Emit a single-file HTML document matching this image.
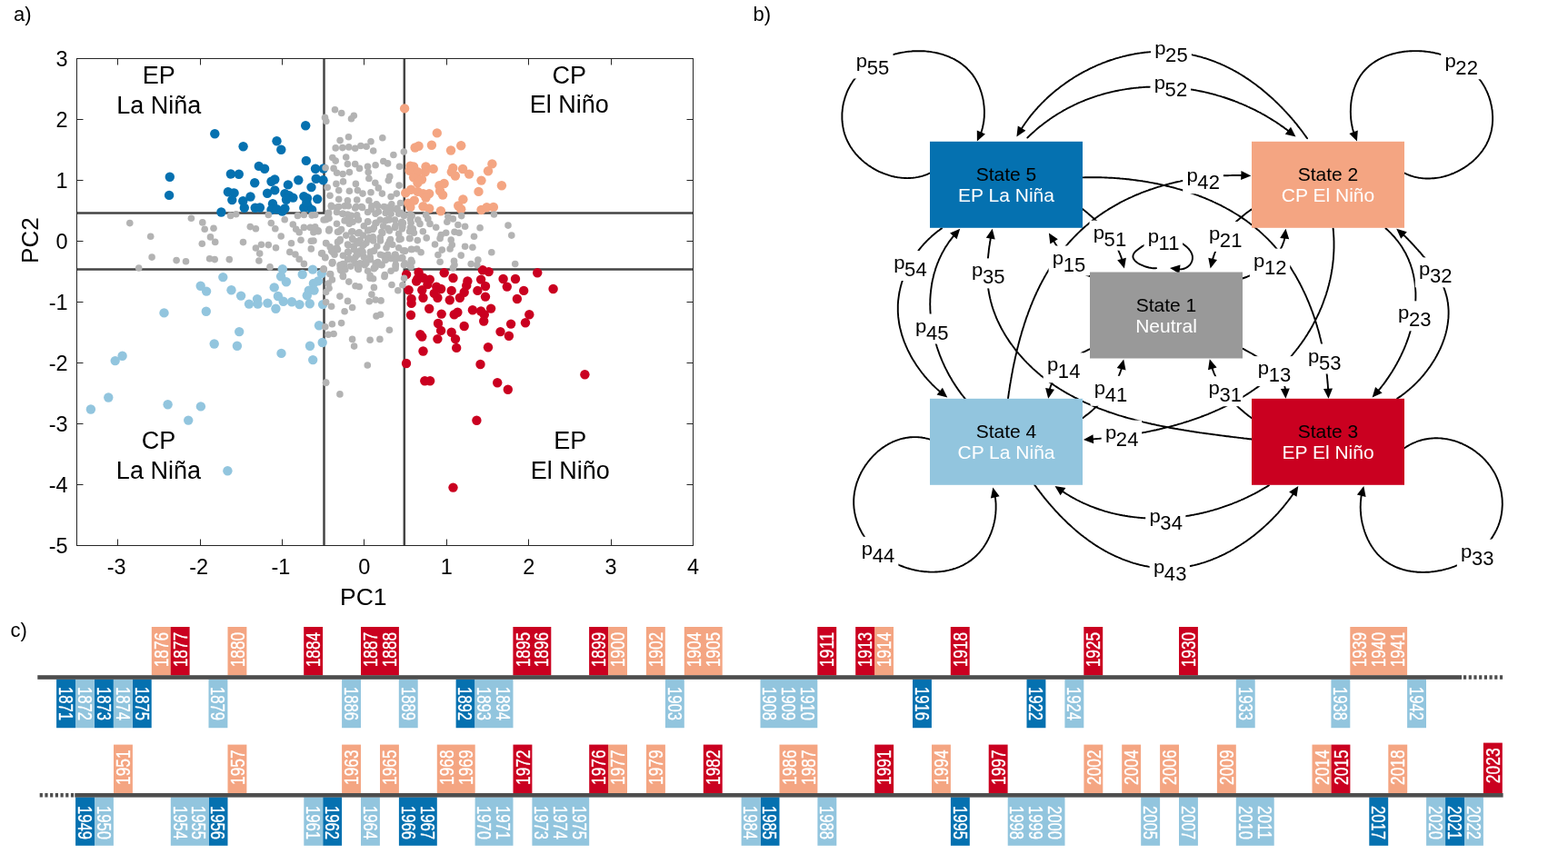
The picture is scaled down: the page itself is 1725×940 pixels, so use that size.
<!DOCTYPE html>
<html><head><meta charset="utf-8"><title>ENSO states</title>
<style>
html,body{margin:0;padding:0;background:#fff;}
body{width:1725px;height:940px;overflow:hidden;}
svg{display:block;font-family:'Liberation Sans', Arial, Helvetica, sans-serif;}
</style></head><body>
<svg width="1725" height="940" viewBox="0 0 1725 940">
<rect width="1725" height="940" fill="#fff"/>
<g id="pa">
<text x="15" y="22.5" font-size="22">a)</text>
<g stroke="#444" stroke-width="2.5" fill="none">
<path d="M84.5 234.4H356.5V64.5"/>
<path d="M84.5 296.5H356.5V600.5"/>
<path d="M762.5 234.4H444.8V64.5"/>
<path d="M762.5 296.5H444.8V600.5"/>
</g>
<g fill="#0571b0">
<circle cx="336.2" cy="138.2" r="5.2"/>
<circle cx="236.3" cy="147.3" r="5.2"/>
<circle cx="267.6" cy="161.3" r="5.2"/>
<circle cx="304.5" cy="155.3" r="5.2"/>
<circle cx="309.3" cy="164.7" r="5.2"/>
<circle cx="336.8" cy="176.9" r="5.2"/>
<circle cx="284.8" cy="182.9" r="5.2"/>
<circle cx="291.1" cy="185.8" r="5.2"/>
<circle cx="347" cy="185.8" r="5.2"/>
<circle cx="355.9" cy="185.5" r="5.2"/>
<circle cx="186.8" cy="194.8" r="5.2"/>
<circle cx="253.9" cy="191.5" r="5.2"/>
<circle cx="262.8" cy="191.8" r="5.2"/>
<circle cx="302.3" cy="197.5" r="5.2"/>
<circle cx="298.5" cy="199.7" r="5.2"/>
<circle cx="280.2" cy="201.2" r="5.2"/>
<circle cx="328.3" cy="198.2" r="5.2"/>
<circle cx="347.7" cy="196.7" r="5.2"/>
<circle cx="355.5" cy="198.2" r="5.2"/>
<circle cx="316.9" cy="203.4" r="5.2"/>
<circle cx="342.5" cy="206.1" r="5.2"/>
<circle cx="186.1" cy="214.9" r="5.2"/>
<circle cx="250.9" cy="211.2" r="5.2"/>
<circle cx="257.6" cy="212.4" r="5.2"/>
<circle cx="255.3" cy="220.1" r="5.2"/>
<circle cx="275.5" cy="216.5" r="5.2"/>
<circle cx="267.3" cy="221.3" r="5.2"/>
<circle cx="294.1" cy="212.7" r="5.2"/>
<circle cx="302.3" cy="209.4" r="5.2"/>
<circle cx="313.4" cy="213.1" r="5.2"/>
<circle cx="317.9" cy="215.3" r="5.2"/>
<circle cx="322.4" cy="217.6" r="5.2"/>
<circle cx="315" cy="219.8" r="5.2"/>
<circle cx="334.3" cy="216.1" r="5.2"/>
<circle cx="338" cy="218.3" r="5.2"/>
<circle cx="349.2" cy="219.1" r="5.2"/>
<circle cx="243.4" cy="233.5" r="5.2"/>
<circle cx="268.8" cy="228.8" r="5.2"/>
<circle cx="280.7" cy="228.8" r="5.2"/>
<circle cx="285.9" cy="228.5" r="5.2"/>
<circle cx="300" cy="224.3" r="5.2"/>
<circle cx="298.5" cy="231" r="5.2"/>
<circle cx="304.5" cy="230.2" r="5.2"/>
<circle cx="310.5" cy="232.5" r="5.2"/>
<circle cx="313.4" cy="229.5" r="5.2"/>
<circle cx="334.3" cy="228.8" r="5.2"/>
<circle cx="338.8" cy="227.3" r="5.2"/>
<circle cx="343.2" cy="231" r="5.2"/>
<circle cx="337.3" cy="222.8" r="5.2"/>
</g>
<g fill="#f4a582">
<circle cx="445.1" cy="119.4" r="5.2"/>
<circle cx="480.8" cy="146.4" r="5.2"/>
<circle cx="456.6" cy="162.5" r="5.2"/>
<circle cx="460.6" cy="160.7" r="5.2"/>
<circle cx="474.9" cy="159.8" r="5.2"/>
<circle cx="496" cy="165.5" r="5.2"/>
<circle cx="507.2" cy="160.3" r="5.2"/>
<circle cx="541.4" cy="180.4" r="5.2"/>
<circle cx="537" cy="188.3" r="5.2"/>
<circle cx="451.4" cy="182.6" r="5.2"/>
<circle cx="455.1" cy="183.4" r="5.2"/>
<circle cx="450.6" cy="187.8" r="5.2"/>
<circle cx="468.5" cy="183.4" r="5.2"/>
<circle cx="476.7" cy="185.9" r="5.2"/>
<circle cx="467.7" cy="189.3" r="5.2"/>
<circle cx="459.5" cy="189.3" r="5.2"/>
<circle cx="455.1" cy="195.3" r="5.2"/>
<circle cx="464" cy="197.5" r="5.2"/>
<circle cx="459.5" cy="201.2" r="5.2"/>
<circle cx="498.3" cy="184.9" r="5.2"/>
<circle cx="496.8" cy="189.3" r="5.2"/>
<circle cx="500.9" cy="193.5" r="5.2"/>
<circle cx="509.1" cy="186" r="5.2"/>
<circle cx="516.1" cy="191.6" r="5.2"/>
<circle cx="529.5" cy="198.6" r="5.2"/>
<circle cx="551.9" cy="204.2" r="5.2"/>
<circle cx="483.4" cy="204.2" r="5.2"/>
<circle cx="488.6" cy="202" r="5.2"/>
<circle cx="484.1" cy="210.2" r="5.2"/>
<circle cx="487.1" cy="214.6" r="5.2"/>
<circle cx="446.2" cy="212.4" r="5.2"/>
<circle cx="452.1" cy="208.7" r="5.2"/>
<circle cx="459.5" cy="210.9" r="5.2"/>
<circle cx="465.5" cy="213.1" r="5.2"/>
<circle cx="472.2" cy="213.1" r="5.2"/>
<circle cx="468.5" cy="217.6" r="5.2"/>
<circle cx="449.1" cy="223.6" r="5.2"/>
<circle cx="451.4" cy="228" r="5.2"/>
<circle cx="455.8" cy="220.6" r="5.2"/>
<circle cx="465.5" cy="227.3" r="5.2"/>
<circle cx="472.2" cy="229.5" r="5.2"/>
<circle cx="484.9" cy="232.2" r="5.2"/>
<circle cx="509.4" cy="219.4" r="5.2"/>
<circle cx="504.2" cy="226.5" r="5.2"/>
<circle cx="507.2" cy="230.3" r="5.2"/>
<circle cx="526.5" cy="210.9" r="5.2"/>
<circle cx="529.5" cy="231" r="5.2"/>
<circle cx="535.5" cy="228.3" r="5.2"/>
<circle cx="542.9" cy="228" r="5.2"/>
</g>
<g fill="#92c5de">
<circle cx="245.3" cy="305.1" r="5.2"/>
<circle cx="220.7" cy="314.7" r="5.2"/>
<circle cx="227.1" cy="320.6" r="5.2"/>
<circle cx="254.5" cy="319.3" r="5.2"/>
<circle cx="265.1" cy="325.6" r="5.2"/>
<circle cx="274" cy="334.6" r="5.2"/>
<circle cx="283" cy="329.1" r="5.2"/>
<circle cx="283.6" cy="334.6" r="5.2"/>
<circle cx="294.4" cy="333.6" r="5.2"/>
<circle cx="303.4" cy="339.7" r="5.2"/>
<circle cx="301.7" cy="316.4" r="5.2"/>
<circle cx="305.9" cy="326" r="5.2"/>
<circle cx="311.7" cy="331.7" r="5.2"/>
<circle cx="321" cy="332.3" r="5.2"/>
<circle cx="329.5" cy="335.1" r="5.2"/>
<circle cx="340.8" cy="334.2" r="5.2"/>
<circle cx="355.1" cy="335.1" r="5.2"/>
<circle cx="310.8" cy="296.3" r="5.2"/>
<circle cx="309.1" cy="304.3" r="5.2"/>
<circle cx="314.9" cy="310.2" r="5.2"/>
<circle cx="332.7" cy="302" r="5.2"/>
<circle cx="344" cy="296.6" r="5.2"/>
<circle cx="353.8" cy="301.1" r="5.2"/>
<circle cx="350" cy="309.4" r="5.2"/>
<circle cx="344.9" cy="311.9" r="5.2"/>
<circle cx="339.8" cy="319.6" r="5.2"/>
<circle cx="345.5" cy="319.6" r="5.2"/>
<circle cx="337.8" cy="325.3" r="5.2"/>
<circle cx="226.8" cy="342.8" r="5.2"/>
<circle cx="263.2" cy="365.1" r="5.2"/>
<circle cx="235.7" cy="378.5" r="5.2"/>
<circle cx="260.9" cy="380.8" r="5.2"/>
<circle cx="309.5" cy="388.9" r="5.2"/>
<circle cx="341" cy="380.8" r="5.2"/>
<circle cx="354.7" cy="377" r="5.2"/>
<circle cx="351" cy="358.2" r="5.2"/>
<circle cx="344.2" cy="396.1" r="5.2"/>
<circle cx="126.7" cy="397.1" r="5.2"/>
<circle cx="134.6" cy="391.7" r="5.2"/>
<circle cx="119.3" cy="437.5" r="5.2"/>
<circle cx="99.9" cy="450.5" r="5.2"/>
<circle cx="184.6" cy="445.2" r="5.2"/>
<circle cx="220.9" cy="447.4" r="5.2"/>
<circle cx="207.2" cy="462.6" r="5.2"/>
<circle cx="250.4" cy="518.3" r="5.2"/>
<circle cx="180.5" cy="344.4" r="5.2"/>
</g>
<g fill="#ca0020">
<circle cx="447.1" cy="302.1" r="5.2"/>
<circle cx="460.6" cy="299.7" r="5.2"/>
<circle cx="459.4" cy="307" r="5.2"/>
<circle cx="458.1" cy="309.5" r="5.2"/>
<circle cx="465.5" cy="305.8" r="5.2"/>
<circle cx="472.8" cy="307.6" r="5.2"/>
<circle cx="470.4" cy="313.1" r="5.2"/>
<circle cx="480.2" cy="315.6" r="5.2"/>
<circle cx="485.1" cy="318" r="5.2"/>
<circle cx="481.4" cy="327.8" r="5.2"/>
<circle cx="477.7" cy="322.9" r="5.2"/>
<circle cx="465.5" cy="327.8" r="5.2"/>
<circle cx="464.3" cy="319.3" r="5.2"/>
<circle cx="449.6" cy="319.3" r="5.2"/>
<circle cx="452.6" cy="329" r="5.2"/>
<circle cx="452.6" cy="333.9" r="5.2"/>
<circle cx="452" cy="346.8" r="5.2"/>
<circle cx="472.2" cy="339.7" r="5.2"/>
<circle cx="485.7" cy="345.6" r="5.2"/>
<circle cx="488.7" cy="300.3" r="5.2"/>
<circle cx="498.5" cy="306" r="5.2"/>
<circle cx="496.7" cy="319.9" r="5.2"/>
<circle cx="494.8" cy="330.3" r="5.2"/>
<circle cx="505.9" cy="327.8" r="5.2"/>
<circle cx="510.7" cy="321.7" r="5.2"/>
<circle cx="514.4" cy="309.5" r="5.2"/>
<circle cx="513.2" cy="314.4" r="5.2"/>
<circle cx="499.7" cy="346.2" r="5.2"/>
<circle cx="503.4" cy="343.7" r="5.2"/>
<circle cx="519.9" cy="341.3" r="5.2"/>
<circle cx="529.1" cy="342.5" r="5.2"/>
<circle cx="532.8" cy="346.2" r="5.2"/>
<circle cx="532.2" cy="353.5" r="5.2"/>
<circle cx="540.1" cy="339.6" r="5.2"/>
<circle cx="530.9" cy="297.2" r="5.2"/>
<circle cx="537.7" cy="299.1" r="5.2"/>
<circle cx="529.1" cy="307.6" r="5.2"/>
<circle cx="534" cy="315" r="5.2"/>
<circle cx="525.4" cy="319.9" r="5.2"/>
<circle cx="534" cy="326.6" r="5.2"/>
<circle cx="553.6" cy="307" r="5.2"/>
<circle cx="557.8" cy="315.6" r="5.2"/>
<circle cx="567" cy="307" r="5.2"/>
<circle cx="576.2" cy="319.9" r="5.2"/>
<circle cx="568.9" cy="329" r="5.2"/>
<circle cx="591.2" cy="300.3" r="5.2"/>
<circle cx="608.6" cy="318" r="5.2"/>
<circle cx="582.3" cy="346.2" r="5.2"/>
<circle cx="578" cy="355.3" r="5.2"/>
<circle cx="562.1" cy="356.6" r="5.2"/>
<circle cx="550.5" cy="365.1" r="5.2"/>
<circle cx="559.9" cy="369.7" r="5.2"/>
<circle cx="482" cy="356" r="5.2"/>
<circle cx="485.1" cy="363.9" r="5.2"/>
<circle cx="481.4" cy="373.1" r="5.2"/>
<circle cx="462.4" cy="368.2" r="5.2"/>
<circle cx="464.3" cy="370.6" r="5.2"/>
<circle cx="496.7" cy="365.7" r="5.2"/>
<circle cx="501" cy="373.1" r="5.2"/>
<circle cx="502.2" cy="382.9" r="5.2"/>
<circle cx="510.7" cy="359" r="5.2"/>
<circle cx="537" cy="382.3" r="5.2"/>
<circle cx="465.5" cy="386.5" r="5.2"/>
<circle cx="447" cy="400" r="5.2"/>
<circle cx="528.5" cy="401" r="5.2"/>
<circle cx="643.4" cy="412.2" r="5.2"/>
<circle cx="467.3" cy="419.2" r="5.2"/>
<circle cx="473.1" cy="419.2" r="5.2"/>
<circle cx="547.2" cy="421.2" r="5.2"/>
<circle cx="558.8" cy="428.8" r="5.2"/>
<circle cx="524.4" cy="462.7" r="5.2"/>
<circle cx="498.5" cy="536.6" r="5.2"/>
</g>
<g fill="#b3b3b3">
<circle cx="142.8" cy="245.6" r="3.8"/>
<circle cx="165.7" cy="260.2" r="3.8"/>
<circle cx="167.1" cy="283.1" r="3.8"/>
<circle cx="152.7" cy="295" r="3.8"/>
<circle cx="194.1" cy="286.6" r="3.8"/>
<circle cx="204.5" cy="287.8" r="3.8"/>
<circle cx="210.4" cy="240.3" r="3.8"/>
<circle cx="222.8" cy="244.9" r="3.8"/>
<circle cx="225.2" cy="252.2" r="3.8"/>
<circle cx="235" cy="251.3" r="3.8"/>
<circle cx="231.5" cy="260.9" r="3.8"/>
<circle cx="236.7" cy="266.4" r="3.8"/>
<circle cx="222.3" cy="268.3" r="3.8"/>
<circle cx="230.6" cy="284.7" r="3.8"/>
<circle cx="236.2" cy="285.6" r="3.8"/>
<circle cx="252.3" cy="285.6" r="3.8"/>
<circle cx="253.6" cy="237.4" r="3.8"/>
<circle cx="259.7" cy="235.7" r="3.8"/>
<circle cx="267.5" cy="266.6" r="3.8"/>
<circle cx="275.3" cy="249.6" r="3.8"/>
<circle cx="281.4" cy="251.8" r="3.8"/>
<circle cx="281.4" cy="273" r="3.8"/>
<circle cx="287.5" cy="269.2" r="3.8"/>
<circle cx="295.3" cy="269.6" r="3.8"/>
<circle cx="303.5" cy="272.7" r="3.8"/>
<circle cx="285.7" cy="279.1" r="3.8"/>
<circle cx="284.9" cy="287" r="3.8"/>
<circle cx="297" cy="293.9" r="3.8"/>
<circle cx="295.3" cy="236.5" r="3.8"/>
<circle cx="298.3" cy="245.6" r="3.8"/>
<circle cx="302.8" cy="251.8" r="3.8"/>
<circle cx="309.2" cy="260" r="3.8"/>
<circle cx="313.2" cy="241.7" r="3.8"/>
<circle cx="320.5" cy="267.8" r="3.8"/>
<circle cx="318.8" cy="277.4" r="3.8"/>
<circle cx="324.9" cy="280" r="3.8"/>
<circle cx="329.2" cy="285.2" r="3.8"/>
<circle cx="334.4" cy="290.4" r="3.8"/>
<circle cx="322.3" cy="247" r="3.8"/>
<circle cx="325.7" cy="252.2" r="3.8"/>
<circle cx="329.2" cy="255.7" r="3.8"/>
<circle cx="334.4" cy="250.4" r="3.8"/>
<circle cx="341.4" cy="250.4" r="3.8"/>
<circle cx="344.9" cy="255.7" r="3.8"/>
<circle cx="350.1" cy="253.9" r="3.8"/>
<circle cx="331" cy="264.3" r="3.8"/>
<circle cx="342.3" cy="265.2" r="3.8"/>
<circle cx="342.3" cy="273.9" r="3.8"/>
<circle cx="353.6" cy="279.1" r="3.8"/>
<circle cx="358.8" cy="267.8" r="3.8"/>
<circle cx="365.7" cy="289.6" r="3.8"/>
<circle cx="327.5" cy="237.4" r="3.8"/>
<circle cx="334.4" cy="236.5" r="3.8"/>
<circle cx="343.1" cy="236.9" r="3.8"/>
<circle cx="356.2" cy="296.5" r="3.8"/>
<circle cx="358.8" cy="241.7" r="3.8"/>
<circle cx="362.3" cy="252.2" r="3.8"/>
<circle cx="368.5" cy="120.8" r="3.8"/>
<circle cx="375.7" cy="124.5" r="3.8"/>
<circle cx="389.3" cy="127.3" r="3.8"/>
<circle cx="386.5" cy="130.8" r="3.8"/>
<circle cx="357.5" cy="129.4" r="3.8"/>
<circle cx="358.8" cy="133.5" r="3.8"/>
<circle cx="383.5" cy="150.8" r="3.8"/>
<circle cx="374.1" cy="154.6" r="3.8"/>
<circle cx="420.8" cy="151.8" r="3.8"/>
<circle cx="408" cy="155.7" r="3.8"/>
<circle cx="369.2" cy="162.9" r="3.8"/>
<circle cx="376.8" cy="162.6" r="3.8"/>
<circle cx="383.7" cy="161.9" r="3.8"/>
<circle cx="390.7" cy="163.3" r="3.8"/>
<circle cx="396.9" cy="160.5" r="3.8"/>
<circle cx="403.1" cy="161.2" r="3.8"/>
<circle cx="410.7" cy="166" r="3.8"/>
<circle cx="432.9" cy="170.5" r="3.8"/>
<circle cx="444.3" cy="167" r="3.8"/>
<circle cx="365.8" cy="173.6" r="3.8"/>
<circle cx="369.2" cy="177.1" r="3.8"/>
<circle cx="380.7" cy="173" r="3.8"/>
<circle cx="382.4" cy="180.6" r="3.8"/>
<circle cx="390.7" cy="180.6" r="3.8"/>
<circle cx="395.5" cy="185.4" r="3.8"/>
<circle cx="404.5" cy="183.3" r="3.8"/>
<circle cx="413.1" cy="181.7" r="3.8"/>
<circle cx="421.8" cy="177.5" r="3.8"/>
<circle cx="426.6" cy="179.9" r="3.8"/>
<circle cx="439.5" cy="183.3" r="3.8"/>
<circle cx="358.1" cy="184.7" r="3.8"/>
<circle cx="367.1" cy="185.4" r="3.8"/>
<circle cx="370.6" cy="190.3" r="3.8"/>
<circle cx="377.1" cy="191.6" r="3.8"/>
<circle cx="384.4" cy="189.6" r="3.8"/>
<circle cx="405.2" cy="189.6" r="3.8"/>
<circle cx="405.9" cy="196.5" r="3.8"/>
<circle cx="428.7" cy="194.4" r="3.8"/>
<circle cx="427.3" cy="198.6" r="3.8"/>
<circle cx="377.5" cy="199.9" r="3.8"/>
<circle cx="369.9" cy="202.4" r="3.8"/>
<circle cx="360.2" cy="206.2" r="3.8"/>
<circle cx="391.4" cy="202.4" r="3.8"/>
<circle cx="412.8" cy="201.3" r="3.8"/>
<circle cx="416.3" cy="206.9" r="3.8"/>
<circle cx="439.1" cy="204.1" r="3.8"/>
<circle cx="372.7" cy="209.6" r="3.8"/>
<circle cx="384.4" cy="210.3" r="3.8"/>
<circle cx="393.4" cy="209.6" r="3.8"/>
<circle cx="399" cy="213.1" r="3.8"/>
<circle cx="408" cy="211.7" r="3.8"/>
<circle cx="420.4" cy="213.1" r="3.8"/>
<circle cx="430.1" cy="216.5" r="3.8"/>
<circle cx="436.3" cy="213.1" r="3.8"/>
<circle cx="363" cy="215.2" r="3.8"/>
<circle cx="372.7" cy="219.3" r="3.8"/>
<circle cx="382.4" cy="220.7" r="3.8"/>
<circle cx="392.7" cy="220" r="3.8"/>
<circle cx="405.9" cy="220.7" r="3.8"/>
<circle cx="414.2" cy="224.8" r="3.8"/>
<circle cx="422.5" cy="227.6" r="3.8"/>
<circle cx="430.8" cy="224.8" r="3.8"/>
<circle cx="440.5" cy="223.5" r="3.8"/>
<circle cx="364.4" cy="226.2" r="3.8"/>
<circle cx="372.7" cy="227.6" r="3.8"/>
<circle cx="381" cy="226.2" r="3.8"/>
<circle cx="390.7" cy="229" r="3.8"/>
<circle cx="397.6" cy="227.6" r="3.8"/>
<circle cx="408.7" cy="230.4" r="3.8"/>
<circle cx="416.3" cy="233.1" r="3.8"/>
<circle cx="428" cy="231.8" r="3.8"/>
<circle cx="436.3" cy="230.4" r="3.8"/>
<circle cx="361.6" cy="234.5" r="3.8"/>
<circle cx="376.8" cy="235.2" r="3.8"/>
<circle cx="386.5" cy="237.3" r="3.8"/>
<circle cx="444.6" cy="237.3" r="3.8"/>
<circle cx="356.1" cy="296.5" r="3.8"/>
<circle cx="363.7" cy="301.9" r="3.8"/>
<circle cx="365.4" cy="307.9" r="3.8"/>
<circle cx="361.2" cy="312.1" r="3.8"/>
<circle cx="362" cy="317.2" r="3.8"/>
<circle cx="358.6" cy="321.5" r="3.8"/>
<circle cx="377.4" cy="304.5" r="3.8"/>
<circle cx="383.8" cy="310.1" r="3.8"/>
<circle cx="391" cy="314.7" r="3.8"/>
<circle cx="395.2" cy="315.5" r="3.8"/>
<circle cx="407.1" cy="306.2" r="3.8"/>
<circle cx="410.6" cy="306.7" r="3.8"/>
<circle cx="423" cy="304.5" r="3.8"/>
<circle cx="431" cy="313.5" r="3.8"/>
<circle cx="411.4" cy="316.4" r="3.8"/>
<circle cx="437.8" cy="319.8" r="3.8"/>
<circle cx="442.9" cy="313.8" r="3.8"/>
<circle cx="444.6" cy="306.2" r="3.8"/>
<circle cx="373.9" cy="326.1" r="3.8"/>
<circle cx="382.5" cy="331.4" r="3.8"/>
<circle cx="387.6" cy="338.5" r="3.8"/>
<circle cx="379.1" cy="342.8" r="3.8"/>
<circle cx="358.6" cy="332.6" r="3.8"/>
<circle cx="364.6" cy="337.3" r="3.8"/>
<circle cx="408.9" cy="324.1" r="3.8"/>
<circle cx="406.3" cy="331.7" r="3.8"/>
<circle cx="413.1" cy="330" r="3.8"/>
<circle cx="419.1" cy="330.9" r="3.8"/>
<circle cx="414" cy="347.9" r="3.8"/>
<circle cx="418.6" cy="346.2" r="3.8"/>
<circle cx="375.6" cy="355.6" r="3.8"/>
<circle cx="365.4" cy="356.7" r="3.8"/>
<circle cx="361.2" cy="368.3" r="3.8"/>
<circle cx="367.1" cy="367.5" r="3.8"/>
<circle cx="357.8" cy="359.8" r="3.8"/>
<circle cx="428.4" cy="363.2" r="3.8"/>
<circle cx="387.6" cy="373.4" r="3.8"/>
<circle cx="389.6" cy="381.1" r="3.8"/>
<circle cx="407.1" cy="374.3" r="3.8"/>
<circle cx="417.9" cy="373.4" r="3.8"/>
<circle cx="404.3" cy="402" r="3.8"/>
<circle cx="358.6" cy="421.1" r="3.8"/>
<circle cx="373.9" cy="433.9" r="3.8"/>
<circle cx="358.5" cy="421.2" r="3.8"/>
<circle cx="365.4" cy="290" r="3.8"/>
<circle cx="374" cy="291.7" r="3.8"/>
<circle cx="379" cy="291.7" r="3.8"/>
<circle cx="394.4" cy="295" r="3.8"/>
<circle cx="401.2" cy="291.7" r="3.8"/>
<circle cx="411.4" cy="295" r="3.8"/>
<circle cx="419.9" cy="291.7" r="3.8"/>
<circle cx="435.2" cy="292.6" r="3.8"/>
<circle cx="450.6" cy="291.7" r="3.8"/>
<circle cx="441.1" cy="234.3" r="3.8"/>
<circle cx="453.2" cy="237.6" r="3.8"/>
<circle cx="468.6" cy="236.5" r="3.8"/>
<circle cx="459.8" cy="242" r="3.8"/>
<circle cx="442.2" cy="244.2" r="3.8"/>
<circle cx="452.1" cy="245.3" r="3.8"/>
<circle cx="462" cy="246.4" r="3.8"/>
<circle cx="470.8" cy="240.9" r="3.8"/>
<circle cx="473" cy="246.4" r="3.8"/>
<circle cx="479.7" cy="250.3" r="3.8"/>
<circle cx="442.2" cy="251.9" r="3.8"/>
<circle cx="454.3" cy="251.9" r="3.8"/>
<circle cx="465.3" cy="254.7" r="3.8"/>
<circle cx="455.4" cy="256.3" r="3.8"/>
<circle cx="492.9" cy="238.2" r="3.8"/>
<circle cx="498.4" cy="240.9" r="3.8"/>
<circle cx="491.8" cy="244.2" r="3.8"/>
<circle cx="507.7" cy="237.6" r="3.8"/>
<circle cx="503.9" cy="247.5" r="3.8"/>
<circle cx="511.6" cy="249.2" r="3.8"/>
<circle cx="500" cy="255.2" r="3.8"/>
<circle cx="505" cy="256.3" r="3.8"/>
<circle cx="490.7" cy="256.3" r="3.8"/>
<circle cx="485.2" cy="258.6" r="3.8"/>
<circle cx="528.1" cy="250.8" r="3.8"/>
<circle cx="521.5" cy="260.2" r="3.8"/>
<circle cx="559" cy="248.1" r="3.8"/>
<circle cx="562.8" cy="259.1" r="3.8"/>
<circle cx="543.5" cy="236" r="3.8"/>
<circle cx="441.1" cy="263" r="3.8"/>
<circle cx="451" cy="262.4" r="3.8"/>
<circle cx="459.3" cy="264.6" r="3.8"/>
<circle cx="469.2" cy="261.9" r="3.8"/>
<circle cx="484.1" cy="262.4" r="3.8"/>
<circle cx="496.2" cy="264.1" r="3.8"/>
<circle cx="478.5" cy="269" r="3.8"/>
<circle cx="497.3" cy="269.6" r="3.8"/>
<circle cx="511.6" cy="271.2" r="3.8"/>
<circle cx="519.9" cy="272.3" r="3.8"/>
<circle cx="486.3" cy="275.1" r="3.8"/>
<circle cx="495.1" cy="274" r="3.8"/>
<circle cx="445.5" cy="276.2" r="3.8"/>
<circle cx="453.2" cy="274.5" r="3.8"/>
<circle cx="458.7" cy="274" r="3.8"/>
<circle cx="463.1" cy="277.8" r="3.8"/>
<circle cx="481.9" cy="280.6" r="3.8"/>
<circle cx="507.2" cy="281.1" r="3.8"/>
<circle cx="540.8" cy="277.8" r="3.8"/>
<circle cx="442.2" cy="283.9" r="3.8"/>
<circle cx="453.2" cy="288.3" r="3.8"/>
<circle cx="484.1" cy="288.3" r="3.8"/>
<circle cx="499.5" cy="287.2" r="3.8"/>
<circle cx="500" cy="291.6" r="3.8"/>
<circle cx="518.2" cy="290.5" r="3.8"/>
<circle cx="525.9" cy="286.1" r="3.8"/>
<circle cx="524.8" cy="291.6" r="3.8"/>
<circle cx="566.7" cy="290.5" r="3.8"/>
<circle cx="444.4" cy="291.6" r="3.8"/>
<circle cx="452.1" cy="293.8" r="3.8"/>
<circle cx="498.4" cy="294.9" r="3.8"/>
<circle cx="364.6" cy="227.6" r="3.8"/>
<circle cx="370.5" cy="228.4" r="3.8"/>
<circle cx="379.1" cy="226.7" r="3.8"/>
<circle cx="383.3" cy="226.7" r="3.8"/>
<circle cx="391.8" cy="227.6" r="3.8"/>
<circle cx="398.6" cy="228.4" r="3.8"/>
<circle cx="408.9" cy="226.7" r="3.8"/>
<circle cx="415.7" cy="226.7" r="3.8"/>
<circle cx="426.7" cy="228.4" r="3.8"/>
<circle cx="437" cy="229.3" r="3.8"/>
<circle cx="430.1" cy="230.1" r="3.8"/>
<circle cx="361.2" cy="234.4" r="3.8"/>
<circle cx="377.4" cy="235.2" r="3.8"/>
<circle cx="382.5" cy="236.1" r="3.8"/>
<circle cx="392.7" cy="236.9" r="3.8"/>
<circle cx="413.1" cy="235.2" r="3.8"/>
<circle cx="424.2" cy="234.4" r="3.8"/>
<circle cx="430.1" cy="235.2" r="3.8"/>
<circle cx="438.7" cy="235.2" r="3.8"/>
<circle cx="444.6" cy="236.9" r="3.8"/>
<circle cx="451.4" cy="236.1" r="3.8"/>
<circle cx="346.7" cy="236.5" r="3.8"/>
<circle cx="356.1" cy="242" r="3.8"/>
<circle cx="362" cy="240.3" r="3.8"/>
<circle cx="379.1" cy="242.9" r="3.8"/>
<circle cx="385" cy="242" r="3.8"/>
<circle cx="394.4" cy="242" r="3.8"/>
<circle cx="404.6" cy="243.7" r="3.8"/>
<circle cx="414" cy="245.4" r="3.8"/>
<circle cx="424.2" cy="242.9" r="3.8"/>
<circle cx="428.4" cy="242" r="3.8"/>
<circle cx="441.2" cy="245.4" r="3.8"/>
<circle cx="451.4" cy="241.2" r="3.8"/>
<circle cx="384.2" cy="246.3" r="3.8"/>
<circle cx="421.6" cy="248.8" r="3.8"/>
<circle cx="434.4" cy="250.5" r="3.8"/>
<circle cx="442.9" cy="249.7" r="3.8"/>
<circle cx="451.4" cy="250.5" r="3.8"/>
<circle cx="346.7" cy="249.7" r="3.8"/>
<circle cx="362" cy="253.1" r="3.8"/>
<circle cx="350.1" cy="254.8" r="3.8"/>
<circle cx="373.1" cy="254.8" r="3.8"/>
<circle cx="387.6" cy="254.8" r="3.8"/>
<circle cx="395.2" cy="255.7" r="3.8"/>
<circle cx="406.3" cy="253.1" r="3.8"/>
<circle cx="420.8" cy="256.5" r="3.8"/>
<circle cx="428.4" cy="253.9" r="3.8"/>
<circle cx="450.6" cy="254.8" r="3.8"/>
<circle cx="387.6" cy="262.5" r="3.8"/>
<circle cx="396.1" cy="264.2" r="3.8"/>
<circle cx="406.3" cy="261.6" r="3.8"/>
<circle cx="410.6" cy="265" r="3.8"/>
<circle cx="428.4" cy="265.9" r="3.8"/>
<circle cx="439.5" cy="263.3" r="3.8"/>
<circle cx="450.6" cy="262.5" r="3.8"/>
<circle cx="345" cy="265" r="3.8"/>
<circle cx="373.9" cy="265" r="3.8"/>
<circle cx="358.6" cy="267.6" r="3.8"/>
<circle cx="383.3" cy="270.1" r="3.8"/>
<circle cx="389.3" cy="271" r="3.8"/>
<circle cx="400.3" cy="269.3" r="3.8"/>
<circle cx="402.9" cy="267.6" r="3.8"/>
<circle cx="431.8" cy="269.3" r="3.8"/>
<circle cx="364.6" cy="276.1" r="3.8"/>
<circle cx="368.8" cy="274.4" r="3.8"/>
<circle cx="354.4" cy="278.6" r="3.8"/>
<circle cx="368" cy="280.3" r="3.8"/>
<circle cx="383.3" cy="277.8" r="3.8"/>
<circle cx="392.7" cy="277.8" r="3.8"/>
<circle cx="396.1" cy="276.1" r="3.8"/>
<circle cx="411.4" cy="276.1" r="3.8"/>
<circle cx="425" cy="272.7" r="3.8"/>
<circle cx="445.5" cy="276.1" r="3.8"/>
<circle cx="452.3" cy="274.4" r="3.8"/>
<circle cx="357.8" cy="283.7" r="3.8"/>
<circle cx="384.2" cy="284.6" r="3.8"/>
<circle cx="391" cy="282.9" r="3.8"/>
<circle cx="400.3" cy="282.9" r="3.8"/>
<circle cx="407.2" cy="282.9" r="3.8"/>
<circle cx="421.6" cy="281.2" r="3.8"/>
<circle cx="434.4" cy="280.3" r="3.8"/>
<circle cx="442.9" cy="283.7" r="3.8"/>
<circle cx="452.3" cy="286.3" r="3.8"/>
<circle cx="365.4" cy="288.9" r="3.8"/>
<circle cx="377.4" cy="290.6" r="3.8"/>
<circle cx="391" cy="289.7" r="3.8"/>
<circle cx="396.1" cy="289.7" r="3.8"/>
<circle cx="402.9" cy="289.7" r="3.8"/>
<circle cx="413.1" cy="289.7" r="3.8"/>
<circle cx="419.9" cy="291.4" r="3.8"/>
<circle cx="424.2" cy="286.3" r="3.8"/>
<circle cx="435.3" cy="291.4" r="3.8"/>
<circle cx="445.5" cy="289.7" r="3.8"/>
<circle cx="374.8" cy="297.4" r="3.8"/>
<circle cx="356.1" cy="295.7" r="3.8"/>
<circle cx="394.4" cy="296.5" r="3.8"/>
<circle cx="411.4" cy="295.7" r="3.8"/>
<circle cx="362.9" cy="301.6" r="3.8"/>
<circle cx="407.2" cy="303.3" r="3.8"/>
<circle cx="423.3" cy="302.5" r="3.8"/>
<circle cx="377.4" cy="303.3" r="3.8"/>
<circle cx="370.5" cy="233.5" r="3.8"/>
<circle cx="404.6" cy="233.5" r="3.8"/>
<circle cx="418.2" cy="242" r="3.8"/>
<circle cx="434.4" cy="242" r="3.8"/>
<circle cx="370.5" cy="246.3" r="3.8"/>
<circle cx="400.3" cy="248.8" r="3.8"/>
<circle cx="411.4" cy="250.5" r="3.8"/>
<circle cx="438.7" cy="257.4" r="3.8"/>
<circle cx="380.8" cy="259.1" r="3.8"/>
<circle cx="418.2" cy="261.6" r="3.8"/>
<circle cx="370.5" cy="272.7" r="3.8"/>
<circle cx="414.8" cy="271" r="3.8"/>
<circle cx="438.7" cy="272.7" r="3.8"/>
<circle cx="377.4" cy="281.2" r="3.8"/>
<circle cx="430.1" cy="284.6" r="3.8"/>
<circle cx="385.9" cy="293.1" r="3.8"/>
<circle cx="404.6" cy="298.2" r="3.8"/>
<circle cx="430.1" cy="298.2" r="3.8"/>
<circle cx="392.7" cy="265.9" r="3.8"/>
<circle cx="399.5" cy="259.1" r="3.8"/>
<circle cx="360.4" cy="238.7" r="3.8"/>
<circle cx="382.5" cy="241.5" r="3.8"/>
<circle cx="388.1" cy="244.2" r="3.8"/>
<circle cx="393.6" cy="241.5" r="3.8"/>
<circle cx="404.7" cy="244.2" r="3.8"/>
<circle cx="413" cy="245.6" r="3.8"/>
<circle cx="426.8" cy="241.5" r="3.8"/>
<circle cx="361.8" cy="253.9" r="3.8"/>
<circle cx="371.5" cy="255.3" r="3.8"/>
<circle cx="375.6" cy="252.5" r="3.8"/>
<circle cx="386.7" cy="255.3" r="3.8"/>
<circle cx="393.6" cy="256.7" r="3.8"/>
<circle cx="404.7" cy="253.9" r="3.8"/>
<circle cx="410.2" cy="252.5" r="3.8"/>
<circle cx="419.9" cy="255.3" r="3.8"/>
<circle cx="426.8" cy="251.2" r="3.8"/>
<circle cx="435.1" cy="248.4" r="3.8"/>
<circle cx="443.4" cy="245.6" r="3.8"/>
<circle cx="363.2" cy="271.9" r="3.8"/>
<circle cx="371.5" cy="266.4" r="3.8"/>
<circle cx="374.2" cy="263.6" r="3.8"/>
<circle cx="382.5" cy="269.1" r="3.8"/>
<circle cx="388.1" cy="263.6" r="3.8"/>
<circle cx="393.6" cy="267.7" r="3.8"/>
<circle cx="399.1" cy="270.5" r="3.8"/>
<circle cx="404.7" cy="263.6" r="3.8"/>
<circle cx="410.2" cy="260.8" r="3.8"/>
<circle cx="418.5" cy="265" r="3.8"/>
<circle cx="426.8" cy="269.1" r="3.8"/>
<circle cx="429.5" cy="263.6" r="3.8"/>
<circle cx="439.2" cy="263.6" r="3.8"/>
<circle cx="357.7" cy="283" r="3.8"/>
<circle cx="365.9" cy="277.4" r="3.8"/>
<circle cx="371.5" cy="274.7" r="3.8"/>
<circle cx="382.5" cy="277.4" r="3.8"/>
<circle cx="389.4" cy="274.7" r="3.8"/>
<circle cx="393.6" cy="280.2" r="3.8"/>
<circle cx="399.1" cy="277.4" r="3.8"/>
<circle cx="407.4" cy="277.4" r="3.8"/>
<circle cx="411.6" cy="276" r="3.8"/>
<circle cx="418.5" cy="280.2" r="3.8"/>
<circle cx="426.8" cy="280.2" r="3.8"/>
<circle cx="435.1" cy="280.2" r="3.8"/>
<circle cx="443.4" cy="276" r="3.8"/>
<circle cx="365.9" cy="288.5" r="3.8"/>
<circle cx="375.6" cy="291.2" r="3.8"/>
<circle cx="382.5" cy="285.7" r="3.8"/>
<circle cx="388.1" cy="285.7" r="3.8"/>
<circle cx="393.6" cy="291.2" r="3.8"/>
<circle cx="401.9" cy="288.5" r="3.8"/>
<circle cx="407.4" cy="285.7" r="3.8"/>
<circle cx="415.7" cy="288.5" r="3.8"/>
<circle cx="418.5" cy="291.2" r="3.8"/>
<circle cx="424" cy="285.7" r="3.8"/>
<circle cx="435.1" cy="285.7" r="3.8"/>
<circle cx="440.6" cy="284.3" r="3.8"/>
<circle cx="374.2" cy="295.4" r="3.8"/>
<circle cx="379.8" cy="296.8" r="3.8"/>
<circle cx="393.6" cy="295.4" r="3.8"/>
<circle cx="413" cy="294" r="3.8"/>
<circle cx="435.1" cy="295.4" r="3.8"/>
</g>
<rect x="84.5" y="64.5" width="678" height="536" fill="none" stroke="#262626" stroke-width="1"/>
<path d="M129.5 600.5v-7M129.5 64.5v7M220.5 600.5v-7M220.5 64.5v7M310.5 600.5v-7M310.5 64.5v7M400.5 600.5v-7M400.5 64.5v7M491.5 600.5v-7M491.5 64.5v7M581.5 600.5v-7M581.5 64.5v7M672.5 600.5v-7M672.5 64.5v7M84.5 533.5h7M762.5 533.5h-7M84.5 466.5h7M762.5 466.5h-7M84.5 399.5h7M762.5 399.5h-7M84.5 332.5h7M762.5 332.5h-7M84.5 265.5h7M762.5 265.5h-7M84.5 198.5h7M762.5 198.5h-7M84.5 131.5h7M762.5 131.5h-7" stroke="#262626" stroke-width="1" fill="none"/>
<g font-size="23.5" fill="#000">
<text x="128.2" y="632" text-anchor="middle">-3</text>
<text x="218.6" y="632" text-anchor="middle">-2</text>
<text x="309" y="632" text-anchor="middle">-1</text>
<text x="400.9" y="632" text-anchor="middle">0</text>
<text x="491.3" y="632" text-anchor="middle">1</text>
<text x="581.7" y="632" text-anchor="middle">2</text>
<text x="672.1" y="632" text-anchor="middle">3</text>
<text x="762.5" y="632" text-anchor="middle">4</text>
<text x="74.6" y="609" text-anchor="end">-5</text>
<text x="74.6" y="542.1" text-anchor="end">-4</text>
<text x="74.6" y="475.1" text-anchor="end">-3</text>
<text x="74.6" y="408.1" text-anchor="end">-2</text>
<text x="74.6" y="341.2" text-anchor="end">-1</text>
<text x="74.6" y="274.2" text-anchor="end">0</text>
<text x="74.6" y="207.3" text-anchor="end">1</text>
<text x="74.6" y="140.4" text-anchor="end">2</text>
<text x="74.6" y="73.4" text-anchor="end">3</text>
</g>
<text x="399.8" y="665.6" font-size="26.5" text-anchor="middle">PC1</text>
<text x="42.5" y="264.6" font-size="26" text-anchor="middle" transform="rotate(-90 42.5 264.6)" dy="0">PC2</text>
<g font-size="27" text-anchor="middle">
<text x="174.8" y="91.9">EP</text>
<text x="174.8" y="124.5">La Niña</text>
<text x="626.2" y="91.8">CP</text>
<text x="626.2" y="124.4">El Niño</text>
<text x="174.4" y="493.9">CP</text>
<text x="174.4" y="526.5">La Niña</text>
<text x="627.2" y="493.9">EP</text>
<text x="627.2" y="526.5">El Niño</text>
</g>
</g>
<g id="pb">
<text x="828.5" y="22.5" font-size="22">b)</text>
<path d="M1023 190.5 1021.6 191.1 1020.2 191.8 1018.8 192.3 1017.4 192.8 1015.9 193.3 1014.5 193.8 1013 194.2 1011.6 194.5 1010.1 194.9 1008.6 195.1 1007.2 195.4 1005.7 195.6 1004.2 195.8 1002.7 195.9 1001.2 196 999.7 196 998.1 196.1 996.6 196 995.1 196 993.6 195.9 992.1 195.8 990.6 195.6 989.1 195.4 987.5 195.2 986 194.9 984.5 194.7 983 194.3 981.5 194 980.1 193.6 978.6 193.2 977.1 192.7 975.6 192.2 974.2 191.7 972.7 191.2 971.3 190.6 969.9 190 968.4 189.4 967 188.8 965.6 188.1 964.2 187.4 962.9 186.6 961.5 185.9 960.2 185.1 958.9 184.3 957.6 183.4 956.3 182.6 955 181.7 953.8 180.8 952.5 179.8 951.3 178.9 950.1 177.9 949 176.9 947.8 175.9 946.7 174.8 945.6 173.8 944.5 172.7 943.5 171.6 942.4 170.4 941.4 169.3 940.5 168.1 939.5 166.9 938.6 165.7 937.7 164.5 936.9 163.3 936 162 935.2 160.7 934.5 159.4 933.7 158.1 933.1 156.8 932.4 155.5 931.8 154.1 931.2 152.8 930.6 151.4 930.1 150 929.6 148.6 929.1 147.2 928.7 145.7 928.3 144.3 928 142.9 927.7 141.4 927.4 139.9 927.2 138.5 926.9 137 926.8 135.5 926.6 134 926.5 132.5 926.4 131.1 926.4 129.6 926.4 128.1 926.4 126.6 926.4 125.1 926.5 123.6 926.7 122.1 926.8 120.6 927 119.1 927.2 117.6 927.4 116.2 927.7 114.7 928 113.2 928.4 111.8 928.8 110.3 929.2 108.9 929.6 107.4 930.1 106 930.6 104.6 931.1 103.2 931.6 101.8 932.2 100.4 932.8 99.1 933.5 97.7 934.2 96.4 934.9 95.1 935.6 93.8 936.4 92.5 937.2 91.3 938 90 938.8 88.8 939.7 87.6 940.6 86.4 941.6 85.3 942.5 84.1 943.5 83 944.6 81.9 945.6 80.9 946.7 79.8 947.8 78.8 948.9 77.8 950 76.8 951.2 75.9 952.4 74.9 953.6 74 954.8 73.1 956 72.3 957.3 71.4 958.6 70.6 959.9 69.8 961.2 69 962.5 68.2 963.9 67.5 965.3 66.8 966.6 66.1 968 65.4 969.5 64.8 970.9 64.2 972.3 63.6 973.8 63 975.2 62.5 976.7 61.9 978.2 61.4 979.7 60.9 981.1 60.5 982.7 60 984.2 59.6 985.7 59.2 987.2 58.9 988.7 58.5 990.3 58.2 991.8 57.9 993.4 57.6 994.9 57.4 996.5 57.1 998 56.9 999.6 56.7 1001.1 56.6 1002.7 56.5 1004.2 56.3 1005.8 56.3 1007.4 56.2 1008.9 56.2 1010.5 56.1 1012 56.2 1013.6 56.2 1015.1 56.3 1016.6 56.3 1018.2 56.4 1019.7 56.6 1021.2 56.7 1022.8 56.9 1024.3 57.1 1025.8 57.4 1027.3 57.6 1028.8 57.9 1030.2 58.2 1031.7 58.5 1033.2 58.9 1034.6 59.3 1036 59.7 1037.5 60.1 1038.9 60.6 1040.3 61.1 1041.7 61.6 1043 62.1 1044.4 62.7 1045.7 63.3 1047.1 63.9 1048.4 64.5 1049.7 65.2 1051 65.9 1052.2 66.6 1053.5 67.3 1054.7 68.1 1055.9 68.9 1057.1 69.7 1058.2 70.6 1059.4 71.5 1060.5 72.4 1061.6 73.3 1062.7 74.3 1063.7 75.2 1064.7 76.3 1065.7 77.3 1066.7 78.4 1067.7 79.5 1068.6 80.6 1069.5 81.7 1070.4 82.9 1071.2 84.1 1072 85.3 1072.8 86.6 1073.6 87.9 1074.3 89.2 1075 90.5 1075.7 91.9 1076.3 93.2 1077 94.6 1077.6 96 1078.1 97.5 1078.6 98.9 1079.1 100.4 1079.6 101.8 1080 103.3 1080.4 104.8 1080.8 106.3 1081.2 107.9 1081.5 109.4 1081.8 110.9 1082 112.5 1082.2 114 1082.4 115.6 1082.6 117.1 1082.7 118.7 1082.8 120.3 1082.9 121.8 1082.9 123.4 1082.9 125 1082.8 126.5 1082.8 128.1 1082.7 129.6 1082.5 131.2 1082.4 132.7 1082.2 134.3 1081.9 135.8 1081.6 137.3 1081.3 138.8 1081 140.3 1080.6 141.8 1080.2 143.2 1079.8 144.7 1078.8 146.9 M1545.1 190.5 1546.5 191.2 1547.9 191.8 1549.3 192.4 1550.7 193 1552.1 193.5 1553.6 193.9 1555 194.4 1556.5 194.8 1558 195.1 1559.4 195.4 1560.9 195.7 1562.4 195.9 1563.9 196.1 1565.4 196.3 1566.9 196.4 1568.4 196.5 1569.9 196.5 1571.5 196.5 1573 196.5 1574.5 196.4 1576 196.3 1577.5 196.2 1579 196 1580.6 195.9 1582.1 195.6 1583.6 195.4 1585.1 195.1 1586.6 194.7 1588.1 194.4 1589.6 194 1591.1 193.5 1592.5 193.1 1594 192.6 1595.5 192.1 1596.9 191.5 1598.4 191 1599.8 190.4 1601.2 189.7 1602.6 189.1 1604 188.4 1605.4 187.7 1606.7 186.9 1608.1 186.2 1609.4 185.4 1610.7 184.6 1612 183.7 1613.3 182.9 1614.6 182 1615.8 181.1 1617 180.1 1618.2 179.2 1619.4 178.2 1620.6 177.2 1621.7 176.1 1622.8 175.1 1623.9 174 1625 172.9 1626 171.8 1627 170.7 1628 169.5 1628.9 168.4 1629.9 167.2 1630.8 166 1631.6 164.7 1632.4 163.5 1633.3 162.2 1634 161 1634.8 159.7 1635.5 158.3 1636.1 157 1636.8 155.7 1637.4 154.3 1637.9 153 1638.5 151.6 1638.9 150.2 1639.4 148.8 1639.8 147.3 1640.2 145.9 1640.6 144.5 1640.9 143 1641.1 141.6 1641.4 140.1 1641.6 138.6 1641.8 137.1 1641.9 135.7 1642 134.2 1642.1 132.7 1642.1 131.2 1642.1 129.7 1642.1 128.2 1642 126.7 1641.9 125.2 1641.8 123.7 1641.7 122.2 1641.5 120.7 1641.2 119.2 1641 117.7 1640.7 116.2 1640.4 114.7 1640 113.3 1639.7 111.8 1639.3 110.4 1638.8 108.9 1638.4 107.5 1637.9 106 1637.3 104.6 1636.8 103.2 1636.2 101.8 1635.6 100.4 1634.9 99.1 1634.3 97.7 1633.6 96.4 1632.9 95.1 1632.1 93.8 1631.3 92.5 1630.5 91.2 1629.7 90 1628.8 88.8 1627.9 87.6 1627 86.4 1626.1 85.2 1625.1 84.1 1624.1 83 1623.1 81.9 1622.1 80.8 1621 79.7 1619.9 78.7 1618.8 77.7 1617.7 76.7 1616.5 75.8 1615.4 74.8 1614.2 73.9 1612.9 73 1611.7 72.2 1610.5 71.3 1609.2 70.5 1607.9 69.7 1606.6 68.9 1605.3 68.2 1603.9 67.4 1602.6 66.7 1601.2 66 1599.8 65.4 1598.5 64.7 1597 64.1 1595.6 63.5 1594.2 62.9 1592.7 62.4 1591.3 61.9 1589.8 61.4 1588.3 60.9 1586.8 60.4 1585.3 60 1583.8 59.6 1582.3 59.2 1580.8 58.8 1579.2 58.5 1577.7 58.1 1576.2 57.8 1574.6 57.6 1573 57.3 1571.5 57.1 1569.9 56.9 1568.4 56.7 1566.8 56.5 1565.2 56.4 1563.6 56.3 1562.1 56.2 1560.5 56.1 1558.9 56.1 1557.4 56.1 1555.8 56.1 1554.2 56.1 1552.7 56.2 1551.1 56.3 1549.6 56.4 1548 56.5 1546.5 56.6 1544.9 56.8 1543.4 57 1541.9 57.3 1540.4 57.5 1538.9 57.8 1537.4 58.1 1535.9 58.4 1534.4 58.8 1532.9 59.1 1531.5 59.5 1530 60 1528.6 60.4 1527.2 60.9 1525.8 61.4 1524.4 61.9 1523 62.5 1521.7 63.1 1520.3 63.7 1519 64.3 1517.7 65 1516.4 65.7 1515.2 66.4 1513.9 67.1 1512.7 67.9 1511.5 68.7 1510.3 69.5 1509.2 70.3 1508 71.2 1506.9 72.1 1505.8 73 1504.8 74 1503.7 74.9 1502.7 76 1501.7 77 1500.8 78 1499.8 79.1 1498.9 80.2 1498.1 81.4 1497.2 82.5 1496.4 83.7 1495.6 85 1494.9 86.2 1494.1 87.5 1493.5 88.8 1492.8 90.1 1492.2 91.4 1491.6 92.8 1491 94.2 1490.5 95.6 1489.9 97 1489.5 98.4 1489 99.9 1488.6 101.4 1488.2 102.8 1487.9 104.3 1487.5 105.9 1487.2 107.4 1487 108.9 1486.7 110.4 1486.5 112 1486.3 113.5 1486.2 115.1 1486 116.7 1486 118.2 1485.9 119.8 1485.9 121.4 1485.8 122.9 1485.9 124.5 1485.9 126.1 1486 127.7 1486.1 129.2 1486.2 130.8 1486.4 132.3 1486.6 133.9 1486.8 135.4 1487.1 137 1487.4 138.5 1487.7 140 1488 141.5 1488.4 143 1488.8 144.4 1489.6 146.7 M1438.1 152.3 1437.2 151.1 1436.4 149.9 1435.5 148.7 1434.6 147.5 1433.7 146.2 1432.8 145 1431.9 143.8 1431 142.6 1430.1 141.5 1429.2 140.3 1428.2 139.1 1427.3 137.9 1426.4 136.7 1425.4 135.5 1424.4 134.4 1423.5 133.2 1422.5 132 1421.5 130.9 1420.5 129.7 1419.5 128.6 1418.5 127.4 1417.5 126.3 1416.4 125.2 1415.4 124 1414.4 122.9 1413.3 121.8 1412.3 120.7 1411.2 119.6 1410.2 118.5 1409.1 117.4 1408 116.3 1406.9 115.2 1405.8 114.1 1404.7 113 1403.6 112 1402.5 110.9 1401.4 109.9 1400.3 108.8 1399.1 107.8 1398 106.7 1396.8 105.7 1395.7 104.7 1394.5 103.7 1393.4 102.7 1392.2 101.7 1391 100.7 1389.8 99.7 1388.7 98.8 1387.5 97.8 1386.3 96.8 1385.1 95.9 1383.8 94.9 1382.6 94 1381.4 93.1 1380.2 92.2 1378.9 91.3 1377.7 90.4 1376.4 89.5 1375.2 88.6 1373.9 87.8 1372.7 86.9 1371.4 86.1 1370.1 85.2 1368.9 84.4 1367.6 83.6 1366.3 82.8 1365 82 1363.7 81.2 1362.4 80.4 1361.1 79.7 1359.7 78.9 1358.4 78.2 1357.1 77.5 1355.8 76.7 1354.4 76 1353.1 75.3 1351.7 74.7 1350.4 74 1349 73.3 1347.7 72.7 1346.3 72 1344.9 71.4 1343.6 70.8 1342.2 70.2 1340.8 69.6 1339.4 69.1 1338 68.5 1336.6 67.9 1335.2 67.4 1333.8 66.9 1332.4 66.4 1331 65.9 1329.6 65.4 1328.2 64.9 1326.8 64.4 1325.4 64 1323.9 63.6 1322.5 63.1 1321.1 62.7 1319.6 62.3 1318.2 62 1316.8 61.6 1315.3 61.2 1313.9 60.9 1312.4 60.6 1311 60.2 1309.5 59.9 1308 59.6 1306.6 59.4 1305.1 59.1 1303.7 58.9 1302.2 58.6 1300.7 58.4 1299.3 58.2 1297.8 58 1296.3 57.8 1294.8 57.6 1293.4 57.5 1291.9 57.4 1290.4 57.2 1288.9 57.1 1287.4 57 1285.9 56.9 1284.5 56.9 1283 56.8 1281.5 56.8 1280 56.7 1278.5 56.7 1277 56.7 1275.5 56.8 1274 56.8 1272.5 56.8 1271.1 56.9 1269.6 56.9 1268.1 57 1266.6 57.1 1265.1 57.2 1263.6 57.4 1262.1 57.5 1260.6 57.6 1259.1 57.8 1257.6 58 1256.2 58.2 1254.7 58.4 1253.2 58.6 1251.7 58.8 1250.2 59.1 1248.7 59.3 1247.3 59.6 1245.8 59.9 1244.3 60.2 1242.8 60.5 1241.4 60.8 1239.9 61.1 1238.4 61.5 1236.9 61.8 1235.5 62.2 1234 62.6 1232.6 62.9 1231.1 63.4 1229.6 63.8 1228.2 64.2 1226.7 64.6 1225.3 65.1 1223.8 65.6 1222.4 66 1221 66.5 1219.5 67 1218.1 67.5 1216.7 68.1 1215.3 68.6 1213.8 69.1 1212.4 69.7 1211 70.3 1209.6 70.8 1208.2 71.4 1206.8 72 1205.4 72.6 1204 73.3 1202.6 73.9 1201.2 74.6 1199.9 75.2 1198.5 75.9 1197.1 76.6 1195.8 77.3 1194.4 78 1193.1 78.7 1191.7 79.4 1190.4 80.1 1189 80.9 1187.7 81.6 1186.4 82.4 1185.1 83.2 1183.8 83.9 1182.4 84.7 1181.1 85.5 1179.9 86.4 1178.6 87.2 1177.3 88 1176 88.9 1174.8 89.7 1173.5 90.6 1172.2 91.5 1171 92.4 1169.8 93.3 1168.5 94.2 1167.3 95.1 1166.1 96 1164.9 96.9 1163.7 97.9 1162.5 98.8 1161.3 99.8 1160.1 100.8 1158.9 101.7 1157.8 102.7 1156.6 103.7 1155.5 104.7 1154.3 105.8 1153.2 106.8 1152.1 107.8 1151 108.9 1149.9 109.9 1148.8 111 1147.7 112.1 1146.6 113.1 1145.6 114.2 1144.5 115.3 1143.5 116.4 1142.4 117.5 1141.4 118.7 1140.4 119.8 1139.4 120.9 1138.4 122.1 1137.4 123.2 1136.4 124.4 1135.4 125.6 1134.5 126.7 1133.5 127.9 1132.6 129.1 1131.7 130.3 1130.8 131.5 1129.9 132.8 1129 134 1128.1 135.2 1127.2 136.5 1126.4 137.7 1125.5 139 1124.7 140.2 1123.3 142.5 M1130.3 151.6 1131.4 150.5 1132.6 149.4 1133.7 148.3 1134.9 147.3 1136 146.2 1137.2 145.2 1138.4 144.1 1139.5 143.1 1140.7 142.1 1141.9 141.1 1143.1 140.1 1144.3 139.1 1145.5 138.2 1146.7 137.2 1148 136.3 1149.2 135.3 1150.4 134.4 1151.7 133.5 1152.9 132.6 1154.2 131.7 1155.4 130.8 1156.7 130 1157.9 129.1 1159.2 128.3 1160.5 127.5 1161.8 126.6 1163.1 125.8 1164.4 125 1165.7 124.2 1167 123.5 1168.3 122.7 1169.6 121.9 1170.9 121.2 1172.2 120.5 1173.6 119.7 1174.9 119 1176.2 118.3 1177.6 117.7 1178.9 117 1180.3 116.3 1181.6 115.6 1183 115 1184.4 114.4 1185.7 113.7 1187.1 113.1 1188.5 112.5 1189.9 111.9 1191.3 111.4 1192.6 110.8 1194 110.2 1195.4 109.7 1196.8 109.1 1198.2 108.6 1199.6 108.1 1201.1 107.6 1202.5 107.1 1203.9 106.6 1205.3 106.1 1206.7 105.7 1208.2 105.2 1209.6 104.8 1211 104.4 1212.5 103.9 1213.9 103.5 1215.4 103.1 1216.8 102.7 1218.2 102.3 1219.7 102 1221.2 101.6 1222.6 101.3 1224.1 100.9 1225.5 100.6 1227 100.3 1228.5 100 1229.9 99.7 1231.4 99.4 1232.9 99.1 1234.3 98.9 1235.8 98.6 1237.3 98.4 1238.8 98.1 1240.3 97.9 1241.7 97.7 1243.2 97.5 1244.7 97.3 1246.2 97.1 1247.7 96.9 1249.2 96.8 1250.7 96.6 1252.2 96.5 1253.7 96.3 1255.2 96.2 1256.7 96.1 1258.2 96 1259.7 95.9 1261.2 95.8 1262.7 95.7 1264.2 95.7 1265.7 95.6 1267.2 95.6 1268.7 95.5 1270.2 95.5 1271.7 95.5 1273.2 95.5 1274.7 95.5 1276.2 95.5 1277.7 95.5 1279.2 95.6 1280.7 95.6 1282.2 95.7 1283.7 95.7 1285.2 95.8 1286.7 95.9 1288.2 96 1289.8 96.1 1291.3 96.2 1292.8 96.3 1294.3 96.5 1295.8 96.6 1297.3 96.8 1298.8 96.9 1300.3 97.1 1301.8 97.3 1303.3 97.5 1304.8 97.7 1306.3 97.9 1307.8 98.1 1309.3 98.3 1310.8 98.6 1312.3 98.8 1313.7 99.1 1315.2 99.3 1316.7 99.6 1318.2 99.9 1319.7 100.2 1321.2 100.5 1322.7 100.8 1324.1 101.1 1325.6 101.4 1327.1 101.8 1328.6 102.1 1330.1 102.5 1331.5 102.9 1333 103.2 1334.5 103.6 1335.9 104 1337.4 104.4 1338.8 104.8 1340.3 105.3 1341.8 105.7 1343.2 106.1 1344.7 106.6 1346.1 107 1347.5 107.5 1349 108 1350.4 108.5 1351.9 109 1353.3 109.5 1354.7 110 1356.1 110.5 1357.6 111 1359 111.6 1360.4 112.1 1361.8 112.7 1363.2 113.3 1364.6 113.8 1366 114.4 1367.4 115 1368.8 115.6 1370.2 116.2 1371.6 116.8 1373 117.5 1374.4 118.1 1375.7 118.8 1377.1 119.4 1378.5 120.1 1379.8 120.7 1381.2 121.4 1382.5 122.1 1383.9 122.8 1385.2 123.5 1386.6 124.2 1387.9 125 1389.2 125.7 1390.6 126.4 1391.9 127.2 1393.2 127.9 1394.5 128.7 1395.8 129.5 1397.1 130.3 1398.4 131.1 1399.7 131.9 1401 132.7 1402.3 133.5 1403.6 134.3 1404.8 135.1 1406.1 136 1407.3 136.8 1408.6 137.7 1409.8 138.6 1411.1 139.4 1412.3 140.3 1413.5 141.2 1414.8 142.1 1416 143 1418.1 144.7 M1036 251.4 1034.7 252.3 1033.5 253.2 1032.2 254.1 1031 255.1 1029.8 256 1028.6 257 1027.4 258 1026.2 259 1025 260 1023.9 261.1 1022.8 262.1 1021.6 263.2 1020.5 264.3 1019.4 265.4 1018.4 266.5 1017.3 267.6 1016.3 268.7 1015.3 269.9 1014.2 271 1013.3 272.2 1012.3 273.4 1011.3 274.6 1010.4 275.8 1009.4 277 1008.5 278.3 1007.6 279.5 1006.8 280.8 1005.9 282.1 1005.1 283.3 1004.3 284.6 1003.5 285.9 1002.7 287.2 1001.9 288.5 1001.1 289.9 1000.4 291.2 999.7 292.6 999 293.9 998.3 295.3 997.7 296.6 997.1 298 996.4 299.4 995.8 300.8 995.3 302.2 994.7 303.6 994.2 305 993.7 306.4 993.2 307.8 992.7 309.3 992.2 310.7 991.8 312.1 991.4 313.6 991 315 990.6 316.5 990.3 317.9 990 319.4 989.6 320.8 989.4 322.3 989.1 323.8 988.9 325.2 988.7 326.7 988.5 328.2 988.3 329.7 988.1 331.1 988 332.6 987.9 334.1 987.8 335.6 987.8 337.1 987.8 338.6 987.8 340 987.8 341.5 987.8 343 987.9 344.5 988 346 988.1 347.4 988.2 348.9 988.4 350.4 988.6 351.9 988.8 353.3 989 354.8 989.2 356.3 989.5 357.7 989.8 359.2 990.1 360.7 990.5 362.1 990.8 363.6 991.2 365 991.6 366.5 992 367.9 992.4 369.4 992.9 370.8 993.4 372.2 993.9 373.7 994.4 375.1 994.9 376.5 995.5 377.9 996.1 379.3 996.6 380.7 997.3 382.1 997.9 383.5 998.5 384.9 999.2 386.3 999.9 387.6 1000.6 389 1001.3 390.4 1002 391.7 1002.7 393 1003.5 394.4 1004.3 395.7 1005.1 397 1005.9 398.3 1006.7 399.6 1007.6 400.9 1008.4 402.2 1009.3 403.5 1010.2 404.8 1011.1 406 1012 407.3 1012.9 408.5 1013.8 409.7 1014.8 411 1015.8 412.2 1016.7 413.4 1017.7 414.6 1018.7 415.7 1019.7 416.9 1020.8 418.1 1021.8 419.2 1022.9 420.3 1023.9 421.4 1025 422.6 1026.1 423.7 1027.2 424.7 1028.3 425.8 1029.4 426.9 1030.5 427.9 1031.7 428.9 1032.8 430 1034.9 431.6 M1061.9 439 1060.9 437.8 1060 436.7 1059.1 435.5 1058.1 434.3 1057.2 433.1 1056.3 431.9 1055.4 430.6 1054.5 429.4 1053.7 428.2 1052.8 426.9 1052 425.7 1051.1 424.4 1050.3 423.1 1049.5 421.9 1048.6 420.6 1047.8 419.3 1047.1 418 1046.3 416.6 1045.5 415.3 1044.8 414 1044 412.7 1043.3 411.3 1042.6 410 1041.9 408.6 1041.2 407.2 1040.5 405.9 1039.8 404.5 1039.1 403.1 1038.5 401.7 1037.9 400.3 1037.2 398.9 1036.6 397.5 1036 396.1 1035.4 394.7 1034.9 393.3 1034.3 391.8 1033.7 390.4 1033.2 389 1032.7 387.5 1032.2 386.1 1031.7 384.7 1031.2 383.2 1030.7 381.7 1030.3 380.3 1029.8 378.8 1029.4 377.4 1029 375.9 1028.6 374.4 1028.2 372.9 1027.8 371.5 1027.5 370 1027.1 368.5 1026.8 367 1026.5 365.5 1026.2 364 1025.9 362.5 1025.6 361 1025.3 359.5 1025.1 358 1024.9 356.6 1024.6 355.1 1024.4 353.6 1024.3 352.1 1024.1 350.5 1023.9 349 1023.8 347.5 1023.7 346 1023.6 344.5 1023.5 343 1023.4 341.5 1023.3 340 1023.3 338.5 1023.3 337 1023.2 335.5 1023.2 334 1023.3 332.5 1023.3 331 1023.3 329.5 1023.4 328.1 1023.5 326.6 1023.6 325.1 1023.7 323.6 1023.9 322.1 1024 320.6 1024.2 319.1 1024.4 317.7 1024.6 316.2 1024.8 314.7 1025 313.2 1025.3 311.8 1025.5 310.3 1025.8 308.9 1026.1 307.4 1026.5 306 1026.8 304.5 1027.2 303.1 1027.5 301.6 1027.9 300.2 1028.4 298.8 1028.8 297.4 1029.2 295.9 1029.7 294.5 1030.2 293.1 1030.7 291.7 1031.2 290.3 1031.8 288.9 1032.4 287.5 1032.9 286.2 1033.5 284.8 1034.2 283.4 1034.8 282.1 1035.5 280.7 1036.1 279.4 1036.8 278 1037.6 276.7 1038.3 275.4 1039.1 274.1 1039.8 272.7 1040.6 271.4 1041.5 270.2 1042.3 268.9 1043.2 267.6 1044 266.3 1044.9 265.1 1045.9 263.8 1046.8 262.6 1047.8 261.3 1048.7 260.1 1049.9 258.9 M1377.1 483.5 1375.7 483.3 1374.3 483.2 1372.8 483 1371.4 482.8 1370 482.6 1368.5 482.5 1367.1 482.3 1365.6 482.1 1364.2 481.9 1362.8 481.8 1361.3 481.6 1359.9 481.4 1358.4 481.2 1356.9 481.1 1355.5 480.9 1354 480.7 1352.5 480.5 1351.1 480.3 1349.6 480.2 1348.1 480 1346.7 479.8 1345.2 479.6 1343.7 479.4 1342.2 479.2 1340.7 479 1339.3 478.8 1337.8 478.6 1336.3 478.4 1334.8 478.2 1333.3 478 1331.8 477.8 1330.3 477.6 1328.8 477.4 1327.3 477.2 1325.8 477 1324.3 476.8 1322.8 476.6 1321.3 476.4 1319.8 476.2 1318.3 475.9 1316.8 475.7 1315.3 475.5 1313.8 475.3 1312.3 475 1310.8 474.8 1309.2 474.6 1307.7 474.3 1306.2 474.1 1304.7 473.8 1303.2 473.6 1301.7 473.3 1300.2 473.1 1298.7 472.8 1297.1 472.6 1295.6 472.3 1294.1 472 1292.6 471.8 1291.1 471.5 1289.6 471.2 1288.1 471 1286.6 470.7 1285.1 470.4 1283.5 470.1 1282 469.8 1280.5 469.5 1279 469.2 1277.5 468.9 1276 468.6 1274.5 468.3 1273 468 1271.5 467.6 1270 467.3 1268.5 467 1267 466.7 1265.5 466.3 1264 466 1262.5 465.6 1261 465.3 1259.5 464.9 1258 464.6 1256.5 464.2 1255 463.8 1253.5 463.5 1252 463.1 1250.5 462.7 1249 462.3 1247.6 461.9 1246.1 461.5 1244.6 461.1 1243.1 460.7 1241.6 460.3 1240.2 459.9 1238.7 459.5 1237.2 459 1235.8 458.6 1234.3 458.2 1232.9 457.7 1231.4 457.3 1229.9 456.8 1228.5 456.4 1227 455.9 1225.6 455.4 1224.2 454.9 1222.7 454.4 1221.3 454 1219.8 453.5 1218.4 453 1217 452.4 1215.6 451.9 1214.1 451.4 1212.7 450.9 1211.3 450.3 1209.9 449.8 1208.5 449.3 1207.1 448.7 1205.7 448.1 1204.3 447.6 1202.9 447 1201.5 446.4 1200.1 445.8 1198.7 445.2 1197.4 444.6 1196 444 1194.6 443.4 1193.3 442.8 1191.9 442.2 1190.5 441.5 1189.2 440.9 1187.9 440.2 1186.5 439.6 1185.2 438.9 1183.8 438.2 1182.5 437.6 1181.2 436.9 1179.9 436.2 1178.6 435.5 1177.3 434.8 1176 434 1174.7 433.3 1173.4 432.6 1172.1 431.8 1170.8 431.1 1169.5 430.3 1168.3 429.6 1167 428.8 1165.7 428 1164.5 427.2 1163.2 426.4 1162 425.6 1160.7 424.8 1159.5 424 1158.3 423.1 1157.1 422.3 1155.9 421.4 1154.7 420.6 1153.5 419.7 1152.3 418.8 1151.1 417.9 1149.9 417 1148.7 416.1 1147.6 415.2 1146.4 414.3 1145.2 413.4 1144.1 412.4 1143 411.5 1141.8 410.5 1140.7 409.5 1139.6 408.6 1138.5 407.6 1137.3 406.6 1136.2 405.6 1135.2 404.6 1134.1 403.5 1133 402.5 1131.9 401.4 1130.9 400.4 1129.8 399.3 1128.8 398.2 1127.7 397.2 1126.7 396.1 1125.7 395 1124.7 393.8 1123.7 392.7 1122.7 391.6 1121.7 390.5 1120.7 389.3 1119.7 388.1 1118.8 387 1117.8 385.8 1116.9 384.6 1116 383.4 1115.1 382.2 1114.2 381 1113.3 379.8 1112.4 378.6 1111.5 377.4 1110.6 376.1 1109.8 374.9 1109 373.6 1108.1 372.3 1107.3 371.1 1106.5 369.8 1105.7 368.5 1105 367.2 1104.2 365.9 1103.5 364.6 1102.7 363.3 1102 362 1101.3 360.7 1100.6 359.3 1099.9 358 1099.3 356.6 1098.6 355.3 1098 353.9 1097.3 352.6 1096.7 351.2 1096.1 349.8 1095.6 348.4 1095 347 1094.5 345.6 1093.9 344.2 1093.4 342.8 1092.9 341.4 1092.4 340 1092 338.6 1091.5 337.1 1091.1 335.7 1090.7 334.3 1090.3 332.8 1089.9 331.4 1089.6 329.9 1089.2 328.4 1088.9 327 1088.6 325.5 1088.3 324 1088 322.6 1087.8 321.1 1087.5 319.6 1087.3 318.1 1087.1 316.6 1087 315.1 1086.8 313.6 1086.7 312.1 1086.5 310.6 1086.4 309.1 1086.4 307.6 1086.3 306 1086.2 304.5 1086.2 303 1086.2 301.5 1086.2 300 1086.2 298.4 1086.2 296.9 1086.2 295.4 1086.3 293.8 1086.4 292.3 1086.4 290.8 1086.5 289.3 1086.6 287.7 1086.7 286.2 1086.9 284.7 1087 283.1 1087.2 281.6 1087.3 280.1 1087.5 278.6 1087.7 277.1 1087.8 275.5 1088 274 1088.2 272.5 1088.4 271 1088.7 269.5 1088.9 268 1089.1 266.5 1089.4 265 1089.6 263.5 1090 261.2 M1109 438.4 1109.2 437 1109.4 435.5 1109.6 434.1 1109.8 432.6 1110 431.1 1110.3 429.7 1110.5 428.2 1110.7 426.8 1110.9 425.3 1111.2 423.8 1111.4 422.4 1111.7 420.9 1111.9 419.4 1112.2 417.9 1112.4 416.5 1112.7 415 1112.9 413.5 1113.2 412 1113.5 410.6 1113.8 409.1 1114 407.6 1114.3 406.1 1114.6 404.6 1114.9 403.1 1115.2 401.7 1115.5 400.2 1115.8 398.7 1116.2 397.2 1116.5 395.7 1116.8 394.2 1117.1 392.7 1117.5 391.3 1117.8 389.8 1118.2 388.3 1118.5 386.8 1118.9 385.3 1119.2 383.8 1119.6 382.3 1120 380.9 1120.3 379.4 1120.7 377.9 1121.1 376.4 1121.5 374.9 1121.9 373.5 1122.3 372 1122.7 370.5 1123.2 369 1123.6 367.6 1124 366.1 1124.4 364.6 1124.9 363.1 1125.3 361.7 1125.8 360.2 1126.3 358.8 1126.7 357.3 1127.2 355.8 1127.7 354.4 1128.2 352.9 1128.6 351.5 1129.1 350 1129.6 348.6 1130.2 347.1 1130.7 345.7 1131.2 344.3 1131.7 342.8 1132.3 341.4 1132.8 340 1133.4 338.5 1133.9 337.1 1134.5 335.7 1135.1 334.3 1135.6 332.9 1136.2 331.5 1136.8 330.1 1137.4 328.7 1138 327.3 1138.6 325.9 1139.3 324.5 1139.9 323.1 1140.5 321.7 1141.2 320.3 1141.8 319 1142.5 317.6 1143.2 316.3 1143.8 314.9 1144.5 313.5 1145.2 312.2 1145.9 310.9 1146.6 309.5 1147.3 308.2 1148.1 306.9 1148.8 305.5 1149.5 304.2 1150.3 302.9 1151 301.6 1151.8 300.3 1152.6 299 1153.3 297.7 1154.1 296.5 1154.9 295.2 1155.7 293.9 1156.5 292.7 1157.3 291.4 1158.2 290.2 1159 288.9 1159.9 287.7 1160.7 286.4 1161.6 285.2 1162.4 284 1163.3 282.8 1164.2 281.6 1165.1 280.4 1166 279.2 1166.9 278 1167.8 276.8 1168.7 275.7 1169.7 274.5 1170.6 273.4 1171.6 272.2 1172.5 271.1 1173.5 269.9 1174.5 268.8 1175.4 267.7 1176.4 266.6 1177.4 265.5 1178.4 264.4 1179.4 263.3 1180.5 262.2 1181.5 261.1 1182.5 260.1 1183.6 259 1184.6 258 1185.7 256.9 1186.7 255.9 1187.8 254.9 1188.9 253.8 1190 252.8 1191.1 251.8 1192.2 250.8 1193.3 249.8 1194.4 248.9 1195.5 247.9 1196.7 246.9 1197.8 246 1198.9 245.1 1200.1 244.1 1201.3 243.2 1202.4 242.3 1203.6 241.4 1204.8 240.5 1206 239.6 1207.2 238.7 1208.4 237.8 1209.6 237 1210.8 236.1 1212.1 235.3 1213.3 234.4 1214.5 233.6 1215.8 232.8 1217 232 1218.3 231.2 1219.5 230.4 1220.8 229.6 1222.1 228.8 1223.4 228.1 1224.7 227.3 1226 226.6 1227.3 225.8 1228.6 225.1 1229.9 224.4 1231.2 223.6 1232.5 222.9 1233.9 222.2 1235.2 221.5 1236.5 220.9 1237.9 220.2 1239.2 219.5 1240.6 218.9 1242 218.2 1243.3 217.6 1244.7 217 1246.1 216.3 1247.5 215.7 1248.8 215.1 1250.2 214.5 1251.6 214 1253 213.4 1254.4 212.8 1255.8 212.2 1257.2 211.7 1258.7 211.1 1260.1 210.6 1261.5 210.1 1262.9 209.6 1264.4 209 1265.8 208.5 1267.2 208.1 1268.7 207.6 1270.1 207.1 1271.6 206.6 1273 206.2 1274.5 205.7 1275.9 205.3 1277.4 204.8 1278.8 204.4 1280.3 204 1281.8 203.6 1283.2 203.2 1284.7 202.8 1286.2 202.4 1287.7 202 1289.2 201.6 1290.6 201.3 1292.1 200.9 1293.6 200.5 1295.1 200.2 1296.6 199.9 1298.1 199.6 1299.6 199.2 1301.1 198.9 1302.6 198.6 1304.1 198.3 1305.6 198.1 1307.1 197.8 1308.6 197.5 1310.1 197.2 1311.6 197 1313.1 196.8 1314.6 196.5 1316.1 196.3 1317.6 196.1 1319.1 195.9 1320.6 195.6 1322.2 195.4 1323.7 195.3 1325.2 195.1 1326.7 194.9 1328.2 194.7 1329.7 194.6 1331.2 194.4 1332.8 194.3 1334.3 194.1 1335.8 194 1337.3 193.9 1338.8 193.8 1340.3 193.7 1341.8 193.6 1343.3 193.5 1344.9 193.4 1346.4 193.3 1347.9 193.3 1349.4 193.2 1350.9 193.2 1352.4 193.1 1353.9 193.1 1355.4 193 1356.9 193 1358.4 193 1359.9 193 1361.4 193 1362.9 193 1364.4 193 1366.8 193.1 M1190.8 195.4 1192.2 195.4 1193.7 195.3 1195.1 195.3 1196.6 195.3 1198.1 195.2 1199.5 195.2 1201 195.2 1202.5 195.2 1203.9 195.2 1205.4 195.2 1206.9 195.2 1208.4 195.3 1209.8 195.3 1211.3 195.3 1212.8 195.4 1214.3 195.4 1215.8 195.5 1217.3 195.5 1218.8 195.6 1220.3 195.7 1221.7 195.7 1223.2 195.8 1224.7 195.9 1226.2 196 1227.8 196.1 1229.3 196.2 1230.8 196.3 1232.3 196.5 1233.8 196.6 1235.3 196.7 1236.8 196.9 1238.3 197 1239.8 197.2 1241.3 197.3 1242.8 197.5 1244.4 197.7 1245.9 197.9 1247.4 198.1 1248.9 198.3 1250.4 198.5 1251.9 198.7 1253.4 198.9 1254.9 199.1 1256.5 199.3 1258 199.6 1259.5 199.8 1261 200.1 1262.5 200.3 1264 200.6 1265.5 200.9 1267 201.1 1268.5 201.4 1270.1 201.7 1271.6 202 1273.1 202.3 1274.6 202.6 1276.1 202.9 1277.6 203.3 1279.1 203.6 1280.6 203.9 1282.1 204.3 1283.6 204.7 1285.1 205 1286.6 205.4 1288 205.8 1289.5 206.1 1291 206.5 1292.5 206.9 1294 207.3 1295.5 207.8 1296.9 208.2 1298.4 208.6 1299.9 209 1301.3 209.5 1302.8 209.9 1304.3 210.4 1305.7 210.9 1307.2 211.3 1308.6 211.8 1310.1 212.3 1311.5 212.8 1313 213.3 1314.4 213.8 1315.9 214.4 1317.3 214.9 1318.7 215.4 1320.1 216 1321.6 216.5 1323 217.1 1324.4 217.6 1325.8 218.2 1327.2 218.8 1328.6 219.4 1330 220 1331.4 220.6 1332.8 221.2 1334.1 221.8 1335.5 222.5 1336.9 223.1 1338.3 223.8 1339.6 224.4 1341 225.1 1342.3 225.7 1343.7 226.4 1345 227.1 1346.4 227.8 1347.7 228.5 1349 229.2 1350.3 230 1351.6 230.7 1352.9 231.4 1354.2 232.2 1355.5 232.9 1356.8 233.7 1358.1 234.5 1359.4 235.2 1360.6 236 1361.9 236.8 1363.2 237.6 1364.4 238.4 1365.7 239.3 1366.9 240.1 1368.1 240.9 1369.3 241.8 1370.6 242.6 1371.8 243.5 1373 244.4 1374.2 245.3 1375.3 246.2 1376.5 247.1 1377.7 248 1378.9 248.9 1380 249.8 1381.2 250.8 1382.3 251.7 1383.4 252.7 1384.6 253.6 1385.7 254.6 1386.8 255.6 1387.9 256.6 1389 257.6 1390 258.6 1391.1 259.6 1392.2 260.6 1393.2 261.6 1394.3 262.7 1395.3 263.7 1396.4 264.8 1397.4 265.9 1398.4 266.9 1399.4 268 1400.4 269.1 1401.4 270.2 1402.4 271.3 1403.3 272.5 1404.3 273.6 1405.2 274.7 1406.2 275.9 1407.1 277 1408 278.2 1409 279.3 1409.9 280.5 1410.8 281.7 1411.7 282.9 1412.6 284.1 1413.4 285.3 1414.3 286.5 1415.2 287.7 1416 288.9 1416.9 290.2 1417.7 291.4 1418.5 292.6 1419.4 293.9 1420.2 295.1 1421 296.4 1421.8 297.7 1422.6 298.9 1423.3 300.2 1424.1 301.5 1424.9 302.8 1425.6 304.1 1426.4 305.4 1427.1 306.7 1427.8 308 1428.6 309.4 1429.3 310.7 1430 312 1430.7 313.4 1431.4 314.7 1432 316 1432.7 317.4 1433.4 318.8 1434 320.1 1434.7 321.5 1435.3 322.9 1436 324.2 1436.6 325.6 1437.2 327 1437.8 328.4 1438.4 329.8 1439 331.2 1439.6 332.6 1440.2 334 1440.7 335.4 1441.3 336.8 1441.8 338.2 1442.4 339.6 1442.9 341.1 1443.5 342.5 1444 343.9 1444.5 345.4 1445 346.8 1445.5 348.2 1446 349.7 1446.5 351.1 1446.9 352.6 1447.4 354 1447.9 355.5 1448.3 357 1448.8 358.4 1449.2 359.9 1449.6 361.3 1450.1 362.8 1450.5 364.3 1450.9 365.8 1451.3 367.2 1451.7 368.7 1452 370.2 1452.4 371.7 1452.8 373.1 1453.1 374.6 1453.5 376.1 1453.8 377.6 1454.2 379.1 1454.5 380.6 1454.8 382.1 1455.1 383.6 1455.4 385.1 1455.7 386.6 1456 388 1456.3 389.5 1456.6 391 1456.9 392.5 1457.1 394 1457.4 395.5 1457.6 397 1457.9 398.5 1458.1 400 1458.3 401.5 1458.5 403 1458.7 404.5 1458.9 406 1459.1 407.5 1459.3 409 1459.5 410.5 1459.7 412 1459.8 413.5 1460 415 1460.1 416.5 1460.3 418 1460.4 419.5 1460.5 421 1460.7 422.5 1460.8 424 1460.9 425.5 1461 426.9 1461.1 429.3 M1466.6 251.4 1466.7 253 1466.9 254.5 1467 256.1 1467.1 257.7 1467.2 259.2 1467.3 260.8 1467.4 262.4 1467.4 263.9 1467.5 265.5 1467.5 267 1467.5 268.6 1467.5 270.1 1467.5 271.7 1467.5 273.2 1467.4 274.7 1467.4 276.3 1467.3 277.8 1467.2 279.3 1467.1 280.9 1467 282.4 1466.9 283.9 1466.8 285.4 1466.6 287 1466.5 288.5 1466.3 290 1466.1 291.5 1465.9 293 1465.7 294.5 1465.5 296 1465.2 297.5 1465 299 1464.7 300.5 1464.5 302 1464.2 303.4 1463.9 304.9 1463.6 306.4 1463.3 307.9 1462.9 309.3 1462.6 310.8 1462.2 312.2 1461.9 313.7 1461.5 315.1 1461.1 316.6 1460.7 318 1460.3 319.5 1459.8 320.9 1459.4 322.3 1459 323.8 1458.5 325.2 1458 326.6 1457.5 328 1457 329.4 1456.5 330.8 1456 332.2 1455.5 333.6 1455 335 1454.4 336.4 1453.9 337.8 1453.3 339.2 1452.7 340.5 1452.1 341.9 1451.5 343.3 1450.9 344.6 1450.3 346 1449.6 347.3 1449 348.7 1448.3 350 1447.7 351.3 1447 352.7 1446.3 354 1445.6 355.3 1444.9 356.6 1444.2 357.9 1443.5 359.2 1442.8 360.5 1442 361.8 1441.3 363.1 1440.5 364.4 1439.7 365.6 1438.9 366.9 1438.2 368.2 1437.4 369.4 1436.5 370.7 1435.7 371.9 1434.9 373.2 1434.1 374.4 1433.2 375.6 1432.4 376.8 1431.5 378.1 1430.6 379.3 1429.7 380.5 1428.8 381.7 1428 382.8 1427 384 1426.1 385.2 1425.2 386.4 1424.3 387.5 1423.3 388.7 1422.4 389.8 1421.4 391 1420.5 392.1 1419.5 393.2 1418.5 394.4 1417.5 395.5 1416.5 396.6 1415.5 397.7 1414.5 398.8 1413.5 399.9 1412.4 400.9 1411.4 402 1410.4 403.1 1409.3 404.1 1408.2 405.2 1407.2 406.2 1406.1 407.3 1405 408.3 1403.9 409.3 1402.8 410.3 1401.7 411.3 1400.6 412.3 1399.5 413.3 1398.4 414.3 1397.2 415.3 1396.1 416.3 1395 417.2 1393.8 418.2 1392.6 419.1 1391.5 420 1390.3 421 1389.1 421.9 1387.9 422.8 1386.8 423.7 1385.6 424.6 1384.4 425.5 1383.1 426.4 1381.9 427.2 1380.7 428.1 1379.5 429 1378.2 429.8 1377 430.6 1375.8 431.5 1374.5 432.3 1373.3 433.1 1372 433.9 1370.7 434.7 1369.5 435.5 1368.2 436.3 1366.9 437.1 1365.6 437.8 1364.3 438.6 1363 439.3 1361.7 440.1 1360.4 440.8 1359.1 441.5 1357.8 442.3 1356.4 443 1355.1 443.7 1353.8 444.4 1352.4 445.1 1351.1 445.8 1349.8 446.4 1348.4 447.1 1347 447.8 1345.7 448.4 1344.3 449.1 1343 449.7 1341.6 450.4 1340.2 451 1338.8 451.6 1337.4 452.2 1336.1 452.8 1334.7 453.4 1333.3 454 1331.9 454.6 1330.5 455.2 1329.1 455.8 1327.7 456.3 1326.2 456.9 1324.8 457.4 1323.4 458 1322 458.5 1320.6 459.1 1319.1 459.6 1317.7 460.1 1316.3 460.6 1314.8 461.1 1313.4 461.6 1311.9 462.1 1310.5 462.6 1309 463.1 1307.6 463.6 1306.1 464 1304.7 464.5 1303.2 464.9 1301.8 465.4 1300.3 465.8 1298.8 466.3 1297.4 466.7 1295.9 467.1 1294.4 467.6 1293 468 1291.5 468.4 1290 468.8 1288.5 469.2 1287.1 469.6 1285.6 470 1284.1 470.3 1282.6 470.7 1281.1 471.1 1279.6 471.4 1278.1 471.8 1276.7 472.1 1275.2 472.5 1273.7 472.8 1272.2 473.2 1270.7 473.5 1269.2 473.8 1267.7 474.1 1266.2 474.4 1264.7 474.8 1263.2 475.1 1261.7 475.4 1260.2 475.7 1258.7 475.9 1257.2 476.2 1255.7 476.5 1254.2 476.8 1252.7 477 1251.2 477.3 1249.7 477.6 1248.2 477.8 1246.7 478.1 1245.2 478.3 1243.7 478.5 1242.2 478.8 1240.7 479 1239.2 479.2 1237.7 479.4 1236.2 479.7 1234.7 479.9 1233.2 480.1 1231.7 480.3 1230.3 480.5 1228.8 480.7 1227.3 480.8 1225.8 481 1224.3 481.2 1222.8 481.4 1221.3 481.5 1219.8 481.7 1218.3 481.9 1216.9 482 1215.4 482.2 1213.9 482.3 1212.4 482.5 1210.9 482.6 1209.5 482.8 1208 482.9 1206.5 483 1205 483.1 1203.6 483.3 1201.4 483.4 M1524.5 251.4 1525.8 252.5 1527 253.6 1528.2 254.8 1529.3 255.9 1530.5 257.1 1531.6 258.3 1532.7 259.5 1533.8 260.6 1534.8 261.8 1535.8 263.1 1536.8 264.3 1537.8 265.5 1538.7 266.8 1539.6 268 1540.5 269.3 1541.4 270.5 1542.2 271.8 1543 273.1 1543.8 274.4 1544.6 275.7 1545.3 277 1546.1 278.3 1546.8 279.7 1547.4 281 1548.1 282.3 1548.7 283.7 1549.3 285 1549.9 286.4 1550.4 287.8 1551 289.2 1551.5 290.5 1552 291.9 1552.4 293.3 1552.9 294.7 1553.3 296.1 1553.7 297.5 1554.1 299 1554.4 300.4 1554.8 301.8 1555.1 303.2 1555.4 304.7 1555.7 306.1 1555.9 307.6 1556.2 309 1556.4 310.5 1556.6 311.9 1556.7 313.4 1556.9 314.9 1557 316.3 1557.1 317.8 1557.2 319.3 1557.3 320.7 1557.4 322.2 1557.4 323.7 1557.4 325.2 1557.4 326.7 1557.4 328.2 1557.3 329.6 1557.3 331.1 1557.2 332.6 1557.1 334.1 1557 335.6 1556.9 337.1 1556.7 338.6 1556.6 340.1 1556.4 341.6 1556.2 343.1 1556 344.6 1555.8 346.1 1555.5 347.6 1555.3 349.1 1555 350.6 1554.7 352 1554.4 353.5 1554 355 1553.7 356.5 1553.4 358 1553 359.5 1552.6 361 1552.2 362.5 1551.8 363.9 1551.3 365.4 1550.9 366.9 1550.4 368.3 1550 369.8 1549.5 371.3 1549 372.7 1548.5 374.2 1547.9 375.7 1547.4 377.1 1546.8 378.5 1546.3 380 1545.7 381.4 1545.1 382.9 1544.5 384.3 1543.9 385.7 1543.2 387.1 1542.6 388.5 1541.9 389.9 1541.3 391.3 1540.6 392.7 1539.9 394.1 1539.2 395.5 1538.5 396.9 1537.7 398.3 1537 399.6 1536.3 401 1535.5 402.3 1534.7 403.7 1533.9 405 1533.2 406.3 1532.4 407.6 1531.6 409 1530.7 410.3 1529.9 411.6 1529.1 412.8 1528.2 414.1 1527.4 415.4 1526.5 416.6 1525.6 417.9 1524.8 419.1 1523.9 420.4 1523 421.6 1522.1 422.8 1521.1 424 1520.2 425.2 1519.3 426.4 1518.4 427.6 1517.4 428.7 1515.9 430.5 M1537.2 438.6 1538.4 437.8 1539.7 436.9 1540.9 436.1 1542.1 435.2 1543.3 434.3 1544.5 433.4 1545.7 432.5 1546.9 431.5 1548.1 430.6 1549.3 429.6 1550.4 428.6 1551.6 427.6 1552.7 426.6 1553.9 425.6 1555 424.5 1556.1 423.5 1557.2 422.4 1558.3 421.3 1559.4 420.2 1560.4 419.1 1561.5 418 1562.5 416.8 1563.6 415.7 1564.6 414.5 1565.6 413.3 1566.6 412.1 1567.6 410.9 1568.5 409.7 1569.5 408.5 1570.4 407.2 1571.3 406 1572.3 404.7 1573.2 403.5 1574 402.2 1574.9 400.9 1575.7 399.6 1576.6 398.3 1577.4 397 1578.2 395.7 1579 394.4 1579.7 393 1580.5 391.7 1581.2 390.3 1581.9 389 1582.6 387.6 1583.3 386.2 1584 384.8 1584.6 383.5 1585.2 382.1 1585.8 380.7 1586.4 379.3 1586.9 377.9 1587.5 376.4 1588 375 1588.5 373.6 1589 372.2 1589.4 370.7 1589.9 369.3 1590.3 367.9 1590.7 366.4 1591 365 1591.4 363.5 1591.7 362.1 1592 360.6 1592.2 359.2 1592.5 357.7 1592.7 356.3 1592.9 354.8 1593.1 353.3 1593.2 351.9 1593.4 350.4 1593.5 349 1593.5 347.5 1593.6 346 1593.6 344.6 1593.6 343.1 1593.6 341.7 1593.5 340.2 1593.4 338.7 1593.3 337.3 1593.1 335.8 1593 334.4 1592.8 332.9 1592.5 331.5 1592.3 330 1592 328.6 1591.7 327.2 1591.3 325.7 1590.9 324.3 1590.5 322.9 1590.1 321.5 1589.6 320 1589.1 318.6 1588.6 317.2 1588 315.8 1587.4 314.4 1586.8 313 1586.1 311.7 1585.4 310.3 1584.7 308.9 1584 307.5 1583.2 306.2 1582.5 304.8 1581.7 303.5 1580.8 302.2 1580 300.8 1579.1 299.5 1578.2 298.2 1577.4 296.9 1576.4 295.6 1575.5 294.3 1574.6 293 1573.6 291.7 1572.6 290.4 1571.7 289.2 1570.7 287.9 1569.7 286.7 1568.7 285.4 1567.7 284.2 1566.7 283 1565.6 281.8 1564.6 280.6 1563.6 279.4 1562.6 278.2 1561.5 277 1560.5 275.9 1559.5 274.7 1558.4 273.6 1557.4 272.5 1556.4 271.3 1555.4 270.2 1554.4 269.1 1553.4 268 1552.4 267 1551.4 265.9 1550.4 264.8 1549.4 263.8 1548.4 262.7 1547.3 261.7 1546.3 260.7 1545.3 259.7 1543.4 258 M1023 483.6 1021.4 483.1 1019.8 482.7 1018.3 482.4 1016.7 482 1015.1 481.8 1013.6 481.5 1012 481.4 1010.5 481.2 1008.9 481.1 1007.4 481.1 1005.9 481.1 1004.3 481.1 1002.8 481.2 1001.3 481.3 999.8 481.5 998.3 481.7 996.8 481.9 995.4 482.2 993.9 482.5 992.4 482.8 991 483.2 989.6 483.6 988.1 484.1 986.7 484.6 985.3 485.1 984 485.7 982.6 486.2 981.2 486.9 979.9 487.5 978.6 488.2 977.2 488.9 975.9 489.7 974.7 490.4 973.4 491.3 972.1 492.1 970.9 492.9 969.7 493.8 968.5 494.7 967.3 495.7 966.1 496.6 965 497.6 963.9 498.6 962.8 499.7 961.7 500.7 960.6 501.8 959.6 502.9 958.6 504 957.6 505.2 956.6 506.4 955.6 507.5 954.7 508.7 953.8 510 952.9 511.2 952 512.4 951.2 513.7 950.4 515 949.6 516.3 948.8 517.6 948.1 518.9 947.3 520.3 946.7 521.6 946 523 945.4 524.4 944.8 525.8 944.2 527.2 943.7 528.6 943.1 530 942.6 531.4 942.2 532.8 941.8 534.3 941.4 535.7 941 537.2 940.7 538.6 940.4 540.1 940.1 541.6 939.9 543 939.7 544.5 939.5 546 939.4 547.4 939.3 548.9 939.2 550.4 939.2 551.9 939.2 553.4 939.2 554.8 939.3 556.3 939.4 557.8 939.5 559.3 939.7 560.7 939.9 562.2 940.1 563.6 940.4 565.1 940.7 566.5 941 568 941.4 569.4 941.7 570.9 942.2 572.3 942.6 573.7 943.1 575.1 943.6 576.5 944.1 577.9 944.7 579.3 945.3 580.6 945.9 582 946.6 583.3 947.3 584.6 948 586 948.7 587.3 949.5 588.6 950.3 589.8 951.1 591.1 952 592.3 952.9 593.6 953.8 594.8 954.7 596 955.6 597.1 956.6 598.3 957.6 599.5 958.6 600.6 959.7 601.7 960.8 602.8 961.8 603.9 963 604.9 964.1 606 965.2 607 966.4 608 967.6 609 968.8 609.9 970 610.9 971.3 611.8 972.5 612.7 973.8 613.6 975.1 614.4 976.4 615.3 977.7 616.1 979.1 616.9 980.4 617.6 981.8 618.4 983.2 619.1 984.6 619.8 986 620.5 987.4 621.1 988.8 621.8 990.2 622.4 991.7 623 993.1 623.5 994.6 624.1 996.1 624.6 997.5 625.1 999 625.5 1000.5 626 1002 626.4 1003.5 626.8 1005 627.1 1006.5 627.5 1008 627.8 1009.5 628.1 1011 628.4 1012.6 628.6 1014.1 628.8 1015.6 629 1017.1 629.2 1018.6 629.3 1020.2 629.4 1021.7 629.5 1023.2 629.6 1024.7 629.6 1026.2 629.6 1027.7 629.6 1029.2 629.5 1030.7 629.5 1032.2 629.4 1033.7 629.2 1035.2 629.1 1036.7 628.9 1038.2 628.7 1039.6 628.5 1041.1 628.2 1042.5 627.9 1044 627.6 1045.4 627.2 1046.8 626.9 1048.2 626.5 1049.6 626 1051 625.6 1052.4 625.1 1053.7 624.6 1055.1 624.1 1056.4 623.5 1057.7 622.9 1059 622.3 1060.3 621.6 1061.5 620.9 1062.8 620.2 1064 619.5 1065.2 618.7 1066.4 617.9 1067.6 617.1 1068.8 616.2 1069.9 615.3 1071 614.4 1072.1 613.5 1073.2 612.5 1074.3 611.5 1075.3 610.4 1076.3 609.4 1077.3 608.3 1078.3 607.2 1079.2 606 1080.1 604.9 1081 603.7 1081.9 602.5 1082.7 601.2 1083.5 600 1084.3 598.7 1085.1 597.4 1085.9 596.1 1086.6 594.7 1087.3 593.4 1087.9 592 1088.6 590.6 1089.2 589.2 1089.8 587.8 1090.4 586.4 1090.9 584.9 1091.4 583.5 1091.9 582 1092.3 580.5 1092.8 579.1 1093.2 577.6 1093.5 576.1 1093.9 574.5 1094.2 573 1094.5 571.5 1094.7 570 1094.9 568.4 1095.1 566.9 1095.3 565.4 1095.4 563.8 1095.5 562.3 1095.6 560.7 1095.6 559.2 1095.6 557.6 1095.6 556.1 1095.6 554.6 1095.5 553 1095.3 551.5 1095.2 550 1095 548.4 1094.4 545.9 M1545.1 493.2 1546.5 492.3 1547.8 491.4 1549.2 490.6 1550.6 489.8 1552 489 1553.4 488.3 1554.8 487.7 1556.3 487.1 1557.7 486.5 1559.1 485.9 1560.6 485.4 1562.1 485 1563.5 484.5 1565 484.1 1566.5 483.8 1567.9 483.5 1569.4 483.2 1570.9 483 1572.4 482.8 1573.9 482.6 1575.4 482.5 1576.9 482.4 1578.4 482.3 1579.9 482.3 1581.4 482.3 1582.9 482.4 1584.4 482.4 1585.9 482.5 1587.3 482.7 1588.8 482.9 1590.3 483.1 1591.8 483.3 1593.3 483.6 1594.7 483.9 1596.2 484.3 1597.6 484.6 1599.1 485 1600.5 485.4 1602 485.9 1603.4 486.4 1604.8 486.9 1606.2 487.5 1607.6 488 1609 488.6 1610.3 489.3 1611.7 489.9 1613 490.6 1614.4 491.3 1615.7 492.1 1617 492.8 1618.3 493.6 1619.6 494.4 1620.8 495.3 1622.1 496.1 1623.3 497 1624.5 497.9 1625.7 498.9 1626.9 499.8 1628 500.8 1629.1 501.8 1630.3 502.8 1631.4 503.9 1632.4 504.9 1633.5 506 1634.5 507.1 1635.5 508.3 1636.5 509.4 1637.4 510.6 1638.4 511.8 1639.3 513 1640.2 514.2 1641 515.5 1641.8 516.7 1642.6 518 1643.4 519.3 1644.2 520.6 1644.9 521.9 1645.6 523.3 1646.2 524.7 1646.8 526 1647.4 527.4 1648 528.8 1648.5 530.3 1649 531.7 1649.5 533.1 1649.9 534.6 1650.4 536.1 1650.7 537.5 1651.1 539 1651.4 540.5 1651.7 542 1651.9 543.5 1652.1 545 1652.3 546.5 1652.5 548 1652.6 549.5 1652.7 551.1 1652.7 552.6 1652.8 554.1 1652.8 555.6 1652.7 557.1 1652.6 558.6 1652.5 560.1 1652.4 561.6 1652.2 563.1 1652 564.6 1651.8 566.1 1651.5 567.6 1651.2 569.1 1650.9 570.5 1650.5 572 1650.1 573.4 1649.7 574.8 1649.2 576.2 1648.7 577.6 1648.2 579 1647.6 580.4 1647 581.7 1646.4 583.1 1645.7 584.4 1645 585.7 1644.3 587 1643.6 588.3 1642.8 589.6 1642 590.9 1641.2 592.1 1640.4 593.3 1639.5 594.5 1638.6 595.7 1637.7 596.9 1636.7 598.1 1635.7 599.2 1634.7 600.3 1633.7 601.4 1632.7 602.5 1631.6 603.6 1630.5 604.7 1629.4 605.7 1628.3 606.7 1627.1 607.7 1625.9 608.7 1624.7 609.6 1623.5 610.6 1622.3 611.5 1621 612.4 1619.8 613.3 1618.5 614.1 1617.2 615 1615.9 615.8 1614.5 616.6 1613.2 617.3 1611.8 618.1 1610.5 618.8 1609.1 619.5 1607.7 620.2 1606.2 620.9 1604.8 621.5 1603.4 622.1 1601.9 622.7 1600.5 623.3 1599 623.8 1597.5 624.4 1596.1 624.9 1594.6 625.3 1593.1 625.8 1591.6 626.2 1590.1 626.6 1588.5 627 1587 627.4 1585.5 627.7 1584 628 1582.4 628.3 1580.9 628.6 1579.4 628.8 1577.8 629.1 1576.3 629.2 1574.8 629.4 1573.2 629.6 1571.7 629.7 1570.2 629.8 1568.6 629.8 1567.1 629.9 1565.6 629.9 1564 629.9 1562.5 629.8 1561 629.8 1559.5 629.7 1558 629.5 1556.5 629.4 1555 629.2 1553.5 629 1552.1 628.8 1550.6 628.5 1549.1 628.3 1547.7 628 1546.3 627.6 1544.8 627.3 1543.4 626.9 1542 626.4 1540.6 626 1539.3 625.5 1537.9 625 1536.6 624.5 1535.2 623.9 1533.9 623.3 1532.6 622.7 1531.3 622 1530.1 621.4 1528.8 620.7 1527.6 619.9 1526.4 619.1 1525.2 618.3 1524 617.5 1522.8 616.7 1521.7 615.8 1520.6 614.8 1519.5 613.9 1518.5 612.9 1517.4 611.9 1516.4 610.8 1515.4 609.8 1514.4 608.7 1513.5 607.5 1512.6 606.4 1511.7 605.2 1510.8 604 1510 602.8 1509.1 601.5 1508.3 600.2 1507.6 599 1506.8 597.6 1506.1 596.3 1505.4 594.9 1504.7 593.6 1504.1 592.2 1503.5 590.8 1502.9 589.4 1502.3 587.9 1501.8 586.5 1501.2 585 1500.8 583.5 1500.3 582 1499.9 580.5 1499.5 579 1499.1 577.5 1498.7 576 1498.4 574.5 1498.1 572.9 1497.8 571.4 1497.6 569.9 1497.4 568.3 1497.2 566.8 1497.1 565.2 1496.9 563.7 1496.8 562.1 1496.8 560.5 1496.7 559 1496.7 557.4 1496.8 555.9 1496.8 554.4 1496.9 552.8 1497 551.3 1497.2 549.8 1497.3 548.3 1497.5 546.7 1498.1 544.3 M1395.9 534.3 1394.6 535.1 1393.3 535.9 1392 536.7 1390.7 537.4 1389.4 538.2 1388.1 538.9 1386.8 539.7 1385.5 540.4 1384.2 541.2 1382.9 541.9 1381.5 542.6 1380.2 543.3 1378.8 544 1377.5 544.7 1376.1 545.4 1374.8 546 1373.4 546.7 1372.1 547.4 1370.7 548 1369.3 548.6 1367.9 549.3 1366.5 549.9 1365.2 550.5 1363.8 551.1 1362.4 551.7 1361 552.3 1359.6 552.9 1358.1 553.4 1356.7 554 1355.3 554.6 1353.9 555.1 1352.5 555.6 1351 556.2 1349.6 556.7 1348.2 557.2 1346.7 557.7 1345.3 558.2 1343.9 558.7 1342.4 559.1 1341 559.6 1339.5 560.1 1338.1 560.5 1336.6 560.9 1335.1 561.4 1333.7 561.8 1332.2 562.2 1330.7 562.6 1329.3 563 1327.8 563.4 1326.3 563.7 1324.8 564.1 1323.4 564.5 1321.9 564.8 1320.4 565.1 1318.9 565.5 1317.4 565.8 1315.9 566.1 1314.4 566.4 1312.9 566.7 1311.4 566.9 1309.9 567.2 1308.5 567.5 1307 567.7 1305.5 567.9 1304 568.2 1302.4 568.4 1300.9 568.6 1299.4 568.8 1297.9 569 1296.4 569.2 1294.9 569.3 1293.4 569.5 1291.9 569.6 1290.4 569.8 1288.9 569.9 1287.4 570 1285.9 570.1 1284.4 570.2 1282.9 570.3 1281.3 570.4 1279.8 570.4 1278.3 570.5 1276.8 570.5 1275.3 570.5 1273.8 570.6 1272.3 570.6 1270.8 570.6 1269.3 570.6 1267.8 570.5 1266.3 570.5 1264.8 570.5 1263.2 570.4 1261.7 570.3 1260.2 570.3 1258.7 570.2 1257.2 570.1 1255.7 570 1254.2 569.9 1252.7 569.7 1251.2 569.6 1249.8 569.4 1248.3 569.3 1246.8 569.1 1245.3 568.9 1243.8 568.7 1242.3 568.5 1240.8 568.3 1239.3 568 1237.9 567.8 1236.4 567.5 1234.9 567.3 1233.4 567 1232 566.7 1230.5 566.4 1229 566.1 1227.6 565.8 1226.1 565.4 1224.6 565.1 1223.2 564.7 1221.7 564.4 1220.3 564 1218.8 563.6 1217.4 563.2 1216 562.8 1214.5 562.3 1213.1 561.9 1211.7 561.4 1210.2 561 1208.8 560.5 1207.4 560 1206 559.5 1204.6 559 1203.1 558.4 1201.7 557.9 1200.3 557.4 1198.9 556.8 1197.5 556.2 1196.2 555.6 1194.8 555 1193.4 554.4 1192 553.8 1190.6 553.1 1189.3 552.5 1187.9 551.8 1186.6 551.1 1185.2 550.5 1183.9 549.8 1182.5 549 1181.2 548.3 1179.8 547.6 1178.5 546.8 1177.2 546.1 1175.9 545.3 1174.6 544.5 1173.3 543.7 1172 542.9 1170.7 542 1168.3 540.4 M1138.1 533.6 1138.9 534.8 1139.8 535.9 1140.6 537.1 1141.5 538.3 1142.4 539.4 1143.3 540.6 1144.2 541.8 1145.1 542.9 1146 544.1 1146.9 545.3 1147.8 546.4 1148.7 547.6 1149.7 548.8 1150.6 549.9 1151.6 551.1 1152.5 552.2 1153.5 553.4 1154.5 554.5 1155.5 555.7 1156.5 556.8 1157.5 558 1158.5 559.1 1159.5 560.2 1160.5 561.4 1161.5 562.5 1162.6 563.6 1163.6 564.7 1164.7 565.9 1165.7 567 1166.8 568.1 1167.9 569.2 1169 570.3 1170.1 571.4 1171.2 572.4 1172.3 573.5 1173.4 574.6 1174.5 575.7 1175.6 576.7 1176.8 577.8 1177.9 578.8 1179.1 579.9 1180.2 580.9 1181.4 581.9 1182.5 582.9 1183.7 583.9 1184.9 584.9 1186.1 585.9 1187.3 586.9 1188.5 587.9 1189.7 588.9 1190.9 589.8 1192.1 590.8 1193.4 591.7 1194.6 592.6 1195.8 593.6 1197.1 594.5 1198.3 595.4 1199.6 596.3 1200.9 597.1 1202.1 598 1203.4 598.9 1204.7 599.7 1206 600.6 1207.3 601.4 1208.6 602.2 1209.9 603 1211.2 603.8 1212.6 604.6 1213.9 605.3 1215.2 606.1 1216.5 606.8 1217.9 607.5 1219.2 608.3 1220.6 609 1221.9 609.7 1223.3 610.3 1224.7 611 1226 611.7 1227.4 612.3 1228.8 612.9 1230.2 613.5 1231.6 614.1 1233 614.7 1234.4 615.3 1235.8 615.8 1237.2 616.4 1238.6 616.9 1240 617.4 1241.4 617.9 1242.8 618.4 1244.2 618.9 1245.7 619.3 1247.1 619.8 1248.5 620.2 1249.9 620.6 1251.4 621 1252.8 621.4 1254.2 621.8 1255.7 622.1 1257.1 622.4 1258.6 622.8 1260 623.1 1261.5 623.3 1262.9 623.6 1264.4 623.9 1265.8 624.1 1267.3 624.3 1268.7 624.5 1270.2 624.7 1271.7 624.9 1273.1 625 1274.6 625.2 1276 625.3 1277.5 625.4 1279 625.5 1280.4 625.5 1281.9 625.6 1283.3 625.6 1284.8 625.6 1286.3 625.6 1287.7 625.6 1289.2 625.5 1290.7 625.5 1292.1 625.4 1293.6 625.3 1295 625.2 1296.5 625 1297.9 624.9 1299.4 624.7 1300.9 624.5 1302.3 624.3 1303.8 624.1 1305.2 623.8 1306.7 623.6 1308.1 623.3 1309.6 623 1311 622.7 1312.5 622.4 1313.9 622.1 1315.3 621.7 1316.8 621.4 1318.2 621 1319.7 620.6 1321.1 620.2 1322.5 619.7 1323.9 619.3 1325.4 618.8 1326.8 618.4 1328.2 617.9 1329.6 617.4 1331 616.9 1332.4 616.3 1333.8 615.8 1335.2 615.2 1336.6 614.7 1338 614.1 1339.4 613.5 1340.8 612.9 1342.2 612.2 1343.6 611.6 1344.9 610.9 1346.3 610.3 1347.7 609.6 1349 608.9 1350.4 608.2 1351.7 607.5 1353.1 606.8 1354.4 606 1355.7 605.3 1357.1 604.5 1358.4 603.7 1359.7 602.9 1361 602.1 1362.3 601.3 1363.6 600.5 1364.9 599.7 1366.2 598.8 1367.5 598 1368.8 597.1 1370.1 596.3 1371.3 595.4 1372.6 594.5 1373.8 593.6 1375.1 592.7 1376.3 591.7 1377.6 590.8 1378.8 589.9 1380 588.9 1381.2 588 1382.4 587 1383.6 586 1384.8 585 1386 584 1387.2 583 1388.3 582 1389.5 581 1390.6 579.9 1391.8 578.9 1392.9 577.9 1394.1 576.8 1395.2 575.8 1396.3 574.7 1397.4 573.6 1398.5 572.5 1399.6 571.4 1400.6 570.3 1401.7 569.2 1402.8 568.1 1403.8 567 1404.9 565.9 1405.9 564.8 1406.9 563.6 1407.9 562.5 1408.9 561.3 1409.9 560.2 1410.9 559 1411.9 557.9 1412.8 556.7 1413.8 555.5 1414.7 554.3 1415.6 553.2 1416.6 552 1417.5 550.8 1418.4 549.6 1419.3 548.4 1420.1 547.2 1421 546 1421.9 544.7 1423.1 542.9 M1188.5 228.2 1189.7 229.1 1190.9 230.1 1192.1 231 1193.4 232 1194.6 232.9 1195.8 233.9 1196.9 234.9 1198.1 235.9 1199.3 236.9 1200.5 237.9 1201.6 239 1202.8 240 1203.9 241 1205 242.1 1206.2 243.2 1207.3 244.3 1208.4 245.4 1209.5 246.5 1210.5 247.6 1211.6 248.7 1212.6 249.8 1213.7 251 1214.7 252.1 1215.7 253.3 1216.7 254.5 1217.7 255.7 1218.6 256.9 1219.6 258.1 1220.5 259.3 1221.4 260.6 1222.3 261.8 1223.1 263.1 1224 264.4 1224.8 265.7 1225.6 267 1226.4 268.3 1227.2 269.6 1227.9 270.9 1228.7 272.3 1229.4 273.6 1230.1 275 1230.7 276.4 1231.3 277.8 1232 279.2 1232.5 280.6 1233.1 282.1 1233.6 283.5 1234.4 286.4 M1199.3 304.2 1197.7 303.7 1196.2 303.1 1194.7 302.5 1193.3 301.8 1191.8 301.1 1190.4 300.4 1189.1 299.6 1187.7 298.8 1186.4 297.9 1185.2 297 1183.9 296.1 1182.7 295.1 1181.5 294.1 1180.3 293.1 1179.2 292.1 1178.1 291 1177 289.9 1175.9 288.8 1174.9 287.6 1173.9 286.4 1172.8 285.2 1171.9 284 1170.9 282.8 1169.9 281.6 1169 280.3 1168.1 279 1167.2 277.7 1166.3 276.4 1165.4 275.1 1164.5 273.8 1163.7 272.5 1162.8 271.1 1162 269.8 1161.1 268.4 1160.3 267.1 1158.8 264.5 M1379.8 228.5 1378.5 229.4 1377.2 230.2 1375.9 231.1 1374.6 232 1373.3 232.9 1372.1 233.8 1370.8 234.8 1369.6 235.7 1368.4 236.7 1367.2 237.7 1366 238.7 1364.8 239.7 1363.6 240.7 1362.5 241.7 1361.3 242.8 1360.2 243.8 1359.1 244.9 1358 246 1357 247.1 1355.9 248.2 1354.9 249.3 1353.8 250.5 1352.8 251.7 1351.8 252.8 1350.9 254 1349.9 255.2 1349 256.4 1348.1 257.6 1347.2 258.9 1346.3 260.1 1345.4 261.4 1344.6 262.7 1343.8 264 1343 265.3 1342.2 266.6 1341.4 267.9 1340.7 269.3 1340 270.6 1339.3 272 1338.7 273.4 1338 274.8 1337.4 276.2 1336.8 277.6 1336.2 279 1335.7 280.5 1335.2 281.9 1334.7 283.4 1334.2 284.9 1333.8 286.4 M1366.8 306.5 1368.2 306 1369.7 305.5 1371.1 305 1372.5 304.4 1373.9 303.8 1375.3 303.2 1376.8 302.5 1378.2 301.8 1379.5 301.1 1380.9 300.4 1382.3 299.7 1383.6 298.9 1385 298.1 1386.3 297.2 1387.6 296.4 1388.9 295.5 1390.2 294.6 1391.5 293.7 1392.7 292.7 1393.9 291.7 1395.1 290.7 1396.3 289.7 1397.4 288.6 1398.5 287.6 1399.6 286.5 1400.7 285.3 1401.7 284.2 1402.7 283 1403.7 281.8 1404.6 280.6 1405.5 279.4 1406.4 278.1 1407.2 276.8 1408 275.5 1408.7 274.2 1409.5 272.8 1410.1 271.5 1410.8 270.1 1411.3 268.6 1411.9 267.2 1412.4 265.7 1412.8 264.3 1413.2 262.8 1413.4 261.1 M1201.6 383.1 1200.2 383.7 1198.8 384.3 1197.4 384.9 1196 385.6 1194.6 386.3 1193.2 387 1191.8 387.7 1190.4 388.4 1189.1 389.2 1187.7 390 1186.4 390.8 1185 391.6 1183.7 392.5 1182.4 393.3 1181.1 394.2 1179.8 395.1 1178.6 396.1 1177.3 397 1176.1 398 1174.9 399 1173.7 400 1172.5 401 1171.4 402.1 1170.3 403.2 1169.2 404.3 1168.1 405.4 1167.1 406.5 1166.1 407.7 1165.1 408.9 1164.2 410.1 1163.2 411.3 1162.4 412.6 1161.5 413.8 1160.7 415.1 1159.9 416.4 1159.2 417.8 1158.5 419.1 1157.8 420.5 1157.2 421.9 1156.6 423.3 1156 424.8 1155.5 426.2 1155.1 427.7 1154.8 429.3 M1188.5 461.9 1189.8 461 1191 460.1 1192.3 459.2 1193.5 458.3 1194.7 457.3 1196 456.4 1197.2 455.4 1198.4 454.4 1199.6 453.4 1200.8 452.4 1202 451.4 1203.1 450.4 1204.3 449.3 1205.4 448.3 1206.6 447.2 1207.7 446.1 1208.8 445 1209.9 443.9 1211 442.8 1212.1 441.7 1213.1 440.5 1214.2 439.4 1215.2 438.2 1216.2 437 1217.2 435.8 1218.1 434.6 1219.1 433.4 1220 432.2 1220.9 430.9 1221.8 429.7 1222.7 428.4 1223.6 427.1 1224.4 425.8 1225.2 424.5 1226 423.2 1226.8 421.8 1227.5 420.5 1228.2 419.1 1228.9 417.7 1229.6 416.4 1230.3 415 1230.9 413.5 1231.5 412.1 1232.1 410.7 1232.6 409.2 1233.1 407.8 1233.6 406.3 1234 404.8 M1366.7 383.5 1368 384.2 1369.3 384.9 1370.6 385.6 1371.9 386.3 1373.2 387 1374.6 387.8 1375.9 388.5 1377.3 389.3 1378.7 390.1 1380 390.9 1381.4 391.7 1382.8 392.5 1384.1 393.3 1385.5 394.2 1386.8 395.1 1388.2 396 1389.5 396.9 1390.8 397.8 1392.2 398.7 1393.4 399.7 1394.7 400.6 1396 401.6 1397.2 402.6 1398.4 403.7 1399.6 404.7 1400.7 405.8 1401.8 406.9 1402.9 408 1403.9 409.1 1405 410.3 1405.9 411.4 1406.9 412.7 1407.7 413.9 1408.6 415.1 1409.4 416.4 1410.1 417.7 1410.8 419 1411.5 420.4 1412.1 421.8 1412.6 423.2 1413.1 424.6 1413.5 426.1 1413.8 427.5 1413.9 429.3 M1379.9 462.3 1378.6 461.4 1377.4 460.5 1376.1 459.6 1374.8 458.6 1373.6 457.7 1372.4 456.7 1371.2 455.8 1369.9 454.8 1368.7 453.8 1367.6 452.8 1366.4 451.8 1365.2 450.8 1364.1 449.7 1362.9 448.7 1361.8 447.6 1360.7 446.6 1359.6 445.5 1358.5 444.4 1357.4 443.3 1356.3 442.2 1355.3 441 1354.3 439.9 1353.2 438.7 1352.2 437.6 1351.3 436.4 1350.3 435.2 1349.3 434 1348.4 432.8 1347.5 431.6 1346.6 430.3 1345.7 429.1 1344.8 427.8 1344 426.5 1343.2 425.3 1342.4 424 1341.6 422.6 1340.8 421.3 1340.1 420 1339.3 418.6 1338.6 417.3 1338 415.9 1337.3 414.5 1336.7 413.1 1336 411.7 1335.4 410.3 1334.9 408.8 1334.3 407.4 1333.8 405.9 1333.4 404.4 M1272.1 295.1 1271.1 295.3 1270 295.3 1268.6 295.2 1267.1 295.1 1265.6 294.8 1263.9 294.5 1262.1 294 1260.4 293.5 1258.6 292.9 1256.9 292.2 1255.2 291.5 1253.5 290.6 1252 289.7 1250.6 288.8 1249.4 287.8 1248.3 286.7 1247.5 285.6 1246.9 284.5 1246.5 283.3 1246.4 282.1 1246.6 280.9 1247 279.8 1247.7 278.6 1248.5 277.5 1249.5 276.4 1250.7 275.4 1252 274.4 1253.3 273.4 1254.8 272.4 1256.2 271.4 1257.7 270.5 1259.1 269.6 1260.6 268.7 1261.9 267.9 1263.3 267.1 1264.6 266.3 1266 265.6 1267.3 264.9 1268.6 264.3 1269.9 263.7 1271.3 263.2 1272.6 262.8 1274 262.4 1275.4 262.1 1276.8 261.9 1278.3 261.7 1279.8 261.7 1281.3 261.7 1282.9 261.8 1284.4 262 1286.1 262.3 1287.7 262.6 1289.3 263 1290.9 263.5 1292.6 264.1 1294.2 264.7 1295.7 265.4 1297.3 266.2 1298.8 267 1300.3 267.8 1301.7 268.7 1303 269.7 1304.3 270.7 1305.5 271.7 1306.6 272.8 1307.7 273.9 1308.6 275.1 1309.5 276.2 1310.2 277.4 1310.8 278.7 1311.3 279.9 1311.7 281.2 1311.9 282.4 1311.9 283.7 1311.9 285 1311.6 286.3 1311.2 287.6 1310.7 288.9 1310 290.1 1309.2 291.3 1308.2 292.3 1307.1 293.3 1305.9 294.2 1304.5 294.9 1303.1 295.5 1301.5 296 1299.8 296.3 1298.1 296.4 1296.4 296.2" fill="none" stroke="#000" stroke-width="1.9" stroke-linecap="round"/>
<path d="M1074.9 155.6L1074.8 143.5L1083.9 147.6ZM1492.9 155.6L1484.4 147L1493.8 143.5ZM1118.4 150.6L1119.8 138.6L1128.4 143.8ZM1425.5 150.6L1413.8 147.7L1420 139.8ZM1042.3 437.6L1030.6 434.6L1036.9 426.8ZM1056.2 251.8L1052.6 263.3L1045.1 256.6ZM1091.7 251.8L1094.7 263.5L1084.8 261.7ZM1376.3 193.4L1365.1 198L1365.5 188ZM1461.5 438.8L1456 428L1466 427.6ZM1191.9 484.1L1202.5 478.3L1203.2 488.3ZM1509.6 437.6L1513.1 426L1520.6 432.6ZM1536.2 251.8L1547.8 255.2L1541.2 262.8ZM1092.3 536.6L1099.6 546.2L1089.9 548.4ZM1500.3 535.1L1502.6 547L1492.9 544.6ZM1160.5 534.9L1172.4 537.1L1166.6 545.3ZM1428.3 534.9L1426.5 546.8L1418.1 541.4ZM1236.9 295.6L1229.2 286.3L1238.9 283.7ZM1153.9 256.4L1163.8 263.3L1155.3 268.4ZM1331.6 295.6L1329.3 283.7L1339 286.1ZM1414.5 251.7L1418.2 263.2L1408.2 262ZM1153.2 438.7L1150.1 427L1160 428.7ZM1236.2 395.6L1238.5 407.5L1228.7 405.1ZM1414.4 438.8L1408.9 428.1L1418.8 427.6ZM1330.8 395.3L1338.6 404.5L1329 407.2ZM1287 295.1L1298.5 291.4L1297.4 301.3Z" fill="#000"/>
<g fill="#fff">
<rect x="937.6" y="53.5" width="45" height="33"/>
<rect x="1585.2" y="54.3" width="45" height="33"/>
<rect x="1266" y="39.7" width="44.9" height="33"/>
<rect x="1265.5" y="77.7" width="44.5" height="33"/>
<rect x="979" y="276" width="44.4" height="33"/>
<rect x="1002.8" y="345.5" width="45" height="33"/>
<rect x="1064.9" y="284.4" width="45.1" height="33"/>
<rect x="1198.5" y="242.7" width="42.8" height="33"/>
<rect x="1258.5" y="247" width="42.6" height="33"/>
<rect x="1325.7" y="243.9" width="42.7" height="33"/>
<rect x="1153.6" y="270.5" width="44.5" height="33"/>
<rect x="1374.9" y="273.6" width="44.3" height="33"/>
<rect x="1301.2" y="180.3" width="44.7" height="33"/>
<rect x="1556.8" y="283.4" width="44.7" height="33"/>
<rect x="1533.9" y="331.3" width="44.6" height="33"/>
<rect x="1434.8" y="378.5" width="44.6" height="33"/>
<rect x="1147.7" y="388.3" width="44.2" height="33"/>
<rect x="1199.6" y="413.8" width="42.1" height="33"/>
<rect x="1379.6" y="392.1" width="44.5" height="33"/>
<rect x="1325.3" y="414.2" width="42.1" height="33"/>
<rect x="1211.7" y="462.6" width="44.5" height="33"/>
<rect x="943.6" y="590.8" width="44.8" height="33"/>
<rect x="1602.9" y="593.6" width="43.6" height="33"/>
<rect x="1260.2" y="555.1" width="44.2" height="33"/>
<rect x="1264.7" y="610.8" width="44.2" height="33"/>
</g>
<g font-size="20">
<text x="941.8" y="73.5" textLength="12.3" lengthAdjust="spacingAndGlyphs">p</text><text x="953.7" y="81.5" letter-spacing="0.1" font-size="22">55</text>
<text x="1589.4" y="74.3" textLength="12.3" lengthAdjust="spacingAndGlyphs">p</text><text x="1601.3" y="82.3" letter-spacing="0.1" font-size="22">22</text>
<text x="1270.2" y="59.7" textLength="12.3" lengthAdjust="spacingAndGlyphs">p</text><text x="1282.1" y="67.7" letter-spacing="0.1" font-size="22">25</text>
<text x="1269.7" y="97.7" textLength="12.3" lengthAdjust="spacingAndGlyphs">p</text><text x="1281.6" y="105.7" letter-spacing="0.1" font-size="22">52</text>
<text x="983.2" y="296" textLength="12.3" lengthAdjust="spacingAndGlyphs">p</text><text x="995.1" y="304" letter-spacing="0.1" font-size="22">54</text>
<text x="1007" y="365.5" textLength="12.3" lengthAdjust="spacingAndGlyphs">p</text><text x="1018.9" y="373.5" letter-spacing="0.1" font-size="22">45</text>
<text x="1069.1" y="304.4" textLength="12.3" lengthAdjust="spacingAndGlyphs">p</text><text x="1081" y="312.4" letter-spacing="0.1" font-size="22">35</text>
<text x="1202.7" y="262.7" textLength="12.3" lengthAdjust="spacingAndGlyphs">p</text><text x="1214.6" y="270.7" letter-spacing="0.1" font-size="22">51</text>
<text x="1262.7" y="267" textLength="12.3" lengthAdjust="spacingAndGlyphs">p</text><text x="1274.6" y="275" letter-spacing="0.1" font-size="22">11</text>
<text x="1329.9" y="263.9" textLength="12.3" lengthAdjust="spacingAndGlyphs">p</text><text x="1341.8" y="271.9" letter-spacing="0.1" font-size="22">21</text>
<text x="1157.8" y="290.5" textLength="12.3" lengthAdjust="spacingAndGlyphs">p</text><text x="1169.7" y="298.5" letter-spacing="0.1" font-size="22">15</text>
<text x="1379.1" y="293.6" textLength="12.3" lengthAdjust="spacingAndGlyphs">p</text><text x="1391" y="301.6" letter-spacing="0.1" font-size="22">12</text>
<text x="1305.4" y="200.3" textLength="12.3" lengthAdjust="spacingAndGlyphs">p</text><text x="1317.3" y="208.3" letter-spacing="0.1" font-size="22">42</text>
<text x="1561" y="303.4" textLength="12.3" lengthAdjust="spacingAndGlyphs">p</text><text x="1572.9" y="311.4" letter-spacing="0.1" font-size="22">32</text>
<text x="1538.1" y="351.3" textLength="12.3" lengthAdjust="spacingAndGlyphs">p</text><text x="1550" y="359.3" letter-spacing="0.1" font-size="22">23</text>
<text x="1439" y="398.5" textLength="12.3" lengthAdjust="spacingAndGlyphs">p</text><text x="1450.9" y="406.5" letter-spacing="0.1" font-size="22">53</text>
<text x="1151.9" y="408.3" textLength="12.3" lengthAdjust="spacingAndGlyphs">p</text><text x="1163.8" y="416.3" letter-spacing="0.1" font-size="22">14</text>
<text x="1203.8" y="433.8" textLength="12.3" lengthAdjust="spacingAndGlyphs">p</text><text x="1215.7" y="441.8" letter-spacing="0.1" font-size="22">41</text>
<text x="1383.8" y="412.1" textLength="12.3" lengthAdjust="spacingAndGlyphs">p</text><text x="1395.7" y="420.1" letter-spacing="0.1" font-size="22">13</text>
<text x="1329.5" y="434.2" textLength="12.3" lengthAdjust="spacingAndGlyphs">p</text><text x="1341.4" y="442.2" letter-spacing="0.1" font-size="22">31</text>
<text x="1215.9" y="482.6" textLength="12.3" lengthAdjust="spacingAndGlyphs">p</text><text x="1227.8" y="490.6" letter-spacing="0.1" font-size="22">24</text>
<text x="947.8" y="610.8" textLength="12.3" lengthAdjust="spacingAndGlyphs">p</text><text x="959.7" y="618.8" letter-spacing="0.1" font-size="22">44</text>
<text x="1607.1" y="613.6" textLength="12.3" lengthAdjust="spacingAndGlyphs">p</text><text x="1619" y="621.6" letter-spacing="0.1" font-size="22">33</text>
<text x="1264.4" y="575.1" textLength="12.3" lengthAdjust="spacingAndGlyphs">p</text><text x="1276.3" y="583.1" letter-spacing="0.1" font-size="22">34</text>
<text x="1268.9" y="630.8" textLength="12.3" lengthAdjust="spacingAndGlyphs">p</text><text x="1280.8" y="638.8" letter-spacing="0.1" font-size="22">43</text>
</g>
<rect x="1023" y="155.8" width="168" height="95" fill="#0571b0"/>
<text x="1107" y="198.8" font-size="21" text-anchor="middle" fill="#000">State 5</text>
<text x="1107" y="221.8" font-size="21" text-anchor="middle" fill="#fff">EP La Niña</text>
<rect x="1377" y="155.8" width="168" height="95" fill="#f4a582"/>
<text x="1461" y="198.8" font-size="21" text-anchor="middle" fill="#000">State 2</text>
<text x="1461" y="221.8" font-size="21" text-anchor="middle" fill="#fff">CP El Niño</text>
<rect x="1199" y="299.5" width="168" height="95" fill="#999999"/>
<text x="1283" y="342.5" font-size="21" text-anchor="middle" fill="#000">State 1</text>
<text x="1283" y="365.5" font-size="21" text-anchor="middle" fill="#fff">Neutral</text>
<rect x="1023" y="438.8" width="168" height="95" fill="#92c5de"/>
<text x="1107" y="481.8" font-size="21" text-anchor="middle" fill="#000">State 4</text>
<text x="1107" y="504.8" font-size="21" text-anchor="middle" fill="#fff">CP La Niña</text>
<rect x="1377" y="438.8" width="168" height="95" fill="#ca0020"/>
<text x="1461" y="481.8" font-size="21" text-anchor="middle" fill="#000">State 3</text>
<text x="1461" y="504.8" font-size="21" text-anchor="middle" fill="#fff">EP El Niño</text>
</g>
<g id="pc">
<text x="11.5" y="701" font-size="22">c)</text>
<rect x="166.8" y="690" width="20.9" height="53.4" fill="#f4a582"/>
<rect x="250.5" y="690" width="20.9" height="53.4" fill="#f4a582"/>
<rect x="669.1" y="690" width="20.9" height="53.4" fill="#f4a582"/>
<rect x="710.9" y="690" width="20.9" height="53.4" fill="#f4a582"/>
<rect x="752.8" y="690" width="41.9" height="53.4" fill="#f4a582"/>
<rect x="962.1" y="690" width="20.9" height="53.4" fill="#f4a582"/>
<rect x="1485.3" y="690" width="62.8" height="53.4" fill="#f4a582"/>
<rect x="187.7" y="690" width="20.9" height="53.4" fill="#ca0020"/>
<rect x="334.2" y="690" width="20.9" height="53.4" fill="#ca0020"/>
<rect x="397" y="690" width="41.9" height="53.4" fill="#ca0020"/>
<rect x="564.4" y="690" width="41.9" height="53.4" fill="#ca0020"/>
<rect x="648.1" y="690" width="20.9" height="53.4" fill="#ca0020"/>
<rect x="899.3" y="690" width="20.9" height="53.4" fill="#ca0020"/>
<rect x="941.2" y="690" width="20.9" height="53.4" fill="#ca0020"/>
<rect x="1045.8" y="690" width="20.9" height="53.4" fill="#ca0020"/>
<rect x="1192.3" y="690" width="20.9" height="53.4" fill="#ca0020"/>
<rect x="1297" y="690" width="20.9" height="53.4" fill="#ca0020"/>
<rect x="62.1" y="747.6" width="20.9" height="53.6" fill="#0571b0"/>
<rect x="104" y="747.6" width="20.9" height="53.6" fill="#0571b0"/>
<rect x="145.8" y="747.6" width="20.9" height="53.6" fill="#0571b0"/>
<rect x="501.6" y="747.6" width="20.9" height="53.6" fill="#0571b0"/>
<rect x="1004" y="747.6" width="20.9" height="53.6" fill="#0571b0"/>
<rect x="1129.5" y="747.6" width="20.9" height="53.6" fill="#0571b0"/>
<rect x="83" y="747.6" width="20.9" height="53.6" fill="#92c5de"/>
<rect x="124.9" y="747.6" width="20.9" height="53.6" fill="#92c5de"/>
<rect x="229.5" y="747.6" width="20.9" height="53.6" fill="#92c5de"/>
<rect x="376.1" y="747.6" width="20.9" height="53.6" fill="#92c5de"/>
<rect x="438.8" y="747.6" width="20.9" height="53.6" fill="#92c5de"/>
<rect x="522.6" y="747.6" width="41.9" height="53.6" fill="#92c5de"/>
<rect x="731.9" y="747.6" width="20.9" height="53.6" fill="#92c5de"/>
<rect x="836.5" y="747.6" width="62.8" height="53.6" fill="#92c5de"/>
<rect x="1171.4" y="747.6" width="20.9" height="53.6" fill="#92c5de"/>
<rect x="1359.8" y="747.6" width="20.9" height="53.6" fill="#92c5de"/>
<rect x="1464.4" y="747.6" width="20.9" height="53.6" fill="#92c5de"/>
<rect x="1548.1" y="747.6" width="20.9" height="53.6" fill="#92c5de"/>
<g fill="#fff" stroke="#fff" stroke-width="0.35" font-size="22" text-anchor="middle">
<text x="177.2" y="722.8" transform="rotate(-90 177.2 715.1)" textLength="38.5" lengthAdjust="spacingAndGlyphs">1876</text><text x="260.9" y="722.8" transform="rotate(-90 260.9 715.1)" textLength="38.5" lengthAdjust="spacingAndGlyphs">1880</text><text x="679.5" y="722.8" transform="rotate(-90 679.5 715.1)" textLength="38.5" lengthAdjust="spacingAndGlyphs">1900</text><text x="721.4" y="722.8" transform="rotate(-90 721.4 715.1)" textLength="38.5" lengthAdjust="spacingAndGlyphs">1902</text><text x="763.3" y="722.8" transform="rotate(-90 763.3 715.1)" textLength="38.5" lengthAdjust="spacingAndGlyphs">1904</text><text x="784.2" y="722.8" transform="rotate(-90 784.2 715.1)" textLength="38.5" lengthAdjust="spacingAndGlyphs">1905</text><text x="972.6" y="722.8" transform="rotate(-90 972.6 715.1)" textLength="38.5" lengthAdjust="spacingAndGlyphs">1914</text><text x="1495.8" y="722.8" transform="rotate(-90 1495.8 715.1)" textLength="38.5" lengthAdjust="spacingAndGlyphs">1939</text><text x="1516.7" y="722.8" transform="rotate(-90 1516.7 715.1)" textLength="38.5" lengthAdjust="spacingAndGlyphs">1940</text><text x="1537.7" y="722.8" transform="rotate(-90 1537.7 715.1)" textLength="38.5" lengthAdjust="spacingAndGlyphs">1941</text><text x="198.1" y="722.8" transform="rotate(-90 198.1 715.1)" textLength="38.5" lengthAdjust="spacingAndGlyphs">1877</text><text x="344.7" y="722.8" transform="rotate(-90 344.7 715.1)" textLength="38.5" lengthAdjust="spacingAndGlyphs">1884</text><text x="407.4" y="722.8" transform="rotate(-90 407.4 715.1)" textLength="38.5" lengthAdjust="spacingAndGlyphs">1887</text><text x="428.4" y="722.8" transform="rotate(-90 428.4 715.1)" textLength="38.5" lengthAdjust="spacingAndGlyphs">1888</text><text x="574.9" y="722.8" transform="rotate(-90 574.9 715.1)" textLength="38.5" lengthAdjust="spacingAndGlyphs">1895</text><text x="595.8" y="722.8" transform="rotate(-90 595.8 715.1)" textLength="38.5" lengthAdjust="spacingAndGlyphs">1896</text><text x="658.6" y="722.8" transform="rotate(-90 658.6 715.1)" textLength="38.5" lengthAdjust="spacingAndGlyphs">1899</text><text x="909.8" y="722.8" transform="rotate(-90 909.8 715.1)" textLength="38.5" lengthAdjust="spacingAndGlyphs">1911</text><text x="951.6" y="722.8" transform="rotate(-90 951.6 715.1)" textLength="38.5" lengthAdjust="spacingAndGlyphs">1913</text><text x="1056.3" y="722.8" transform="rotate(-90 1056.3 715.1)" textLength="38.5" lengthAdjust="spacingAndGlyphs">1918</text><text x="1202.8" y="722.8" transform="rotate(-90 1202.8 715.1)" textLength="38.5" lengthAdjust="spacingAndGlyphs">1925</text><text x="1307.4" y="722.8" transform="rotate(-90 1307.4 715.1)" textLength="38.5" lengthAdjust="spacingAndGlyphs">1930</text><text x="72.6" y="782.1" transform="rotate(90 72.6 774.4)" textLength="37" lengthAdjust="spacingAndGlyphs">1871</text><text x="114.4" y="782.1" transform="rotate(90 114.4 774.4)" textLength="37" lengthAdjust="spacingAndGlyphs">1873</text><text x="156.3" y="782.1" transform="rotate(90 156.3 774.4)" textLength="37" lengthAdjust="spacingAndGlyphs">1875</text><text x="512.1" y="782.1" transform="rotate(90 512.1 774.4)" textLength="37" lengthAdjust="spacingAndGlyphs">1892</text><text x="1014.4" y="782.1" transform="rotate(90 1014.4 774.4)" textLength="37" lengthAdjust="spacingAndGlyphs">1916</text><text x="1140" y="782.1" transform="rotate(90 1140 774.4)" textLength="37" lengthAdjust="spacingAndGlyphs">1922</text><text x="93.5" y="782.1" transform="rotate(90 93.5 774.4)" textLength="37" lengthAdjust="spacingAndGlyphs">1872</text><text x="135.4" y="782.1" transform="rotate(90 135.4 774.4)" textLength="37" lengthAdjust="spacingAndGlyphs">1874</text><text x="240" y="782.1" transform="rotate(90 240 774.4)" textLength="37" lengthAdjust="spacingAndGlyphs">1879</text><text x="386.5" y="782.1" transform="rotate(90 386.5 774.4)" textLength="37" lengthAdjust="spacingAndGlyphs">1886</text><text x="449.3" y="782.1" transform="rotate(90 449.3 774.4)" textLength="37" lengthAdjust="spacingAndGlyphs">1889</text><text x="533" y="782.1" transform="rotate(90 533 774.4)" textLength="37" lengthAdjust="spacingAndGlyphs">1893</text><text x="554" y="782.1" transform="rotate(90 554 774.4)" textLength="37" lengthAdjust="spacingAndGlyphs">1894</text><text x="742.3" y="782.1" transform="rotate(90 742.3 774.4)" textLength="37" lengthAdjust="spacingAndGlyphs">1903</text><text x="847" y="782.1" transform="rotate(90 847 774.4)" textLength="37" lengthAdjust="spacingAndGlyphs">1908</text><text x="867.9" y="782.1" transform="rotate(90 867.9 774.4)" textLength="37" lengthAdjust="spacingAndGlyphs">1909</text><text x="888.8" y="782.1" transform="rotate(90 888.8 774.4)" textLength="37" lengthAdjust="spacingAndGlyphs">1910</text><text x="1181.9" y="782.1" transform="rotate(90 1181.9 774.4)" textLength="37" lengthAdjust="spacingAndGlyphs">1924</text><text x="1370.2" y="782.1" transform="rotate(90 1370.2 774.4)" textLength="37" lengthAdjust="spacingAndGlyphs">1933</text><text x="1474.9" y="782.1" transform="rotate(90 1474.9 774.4)" textLength="37" lengthAdjust="spacingAndGlyphs">1938</text><text x="1558.6" y="782.1" transform="rotate(90 1558.6 774.4)" textLength="37" lengthAdjust="spacingAndGlyphs">1942</text>
</g>
<rect x="41.3" y="743.2" width="1566.7" height="4.6" fill="#4d4d4d"/>
<line x1="1610" y1="745.5" x2="1654" y2="745.5" stroke="#4d4d4d" stroke-width="4.6" stroke-dasharray="3.2 2.5"/>
<rect x="125" y="819.6" width="20.9" height="53.4" fill="#f4a582"/>
<rect x="250.5" y="819.6" width="20.9" height="53.4" fill="#f4a582"/>
<rect x="376.1" y="819.6" width="20.9" height="53.4" fill="#f4a582"/>
<rect x="418" y="819.6" width="20.9" height="53.4" fill="#f4a582"/>
<rect x="480.8" y="819.6" width="41.9" height="53.4" fill="#f4a582"/>
<rect x="669.1" y="819.6" width="20.9" height="53.4" fill="#f4a582"/>
<rect x="711" y="819.6" width="20.9" height="53.4" fill="#f4a582"/>
<rect x="857.5" y="819.6" width="41.9" height="53.4" fill="#f4a582"/>
<rect x="1025" y="819.6" width="20.9" height="53.4" fill="#f4a582"/>
<rect x="1192.4" y="819.6" width="20.9" height="53.4" fill="#f4a582"/>
<rect x="1234.2" y="819.6" width="20.9" height="53.4" fill="#f4a582"/>
<rect x="1276.1" y="819.6" width="20.9" height="53.4" fill="#f4a582"/>
<rect x="1338.9" y="819.6" width="20.9" height="53.4" fill="#f4a582"/>
<rect x="1443.5" y="819.6" width="20.9" height="53.4" fill="#f4a582"/>
<rect x="1527.3" y="819.6" width="20.9" height="53.4" fill="#f4a582"/>
<rect x="564.5" y="819.6" width="20.9" height="53.4" fill="#ca0020"/>
<rect x="648.2" y="819.6" width="20.9" height="53.4" fill="#ca0020"/>
<rect x="773.8" y="819.6" width="20.9" height="53.4" fill="#ca0020"/>
<rect x="962.2" y="819.6" width="20.9" height="53.4" fill="#ca0020"/>
<rect x="1087.7" y="819.6" width="20.9" height="53.4" fill="#ca0020"/>
<rect x="1464.5" y="819.6" width="20.9" height="53.4" fill="#ca0020"/>
<rect x="1631.9" y="817.6" width="20.9" height="55.4" fill="#ca0020"/>
<rect x="83.1" y="877.4" width="20.9" height="53.4" fill="#0571b0"/>
<rect x="229.6" y="877.4" width="20.9" height="53.4" fill="#0571b0"/>
<rect x="355.2" y="877.4" width="20.9" height="53.4" fill="#0571b0"/>
<rect x="438.9" y="877.4" width="41.9" height="53.4" fill="#0571b0"/>
<rect x="836.6" y="877.4" width="20.9" height="53.4" fill="#0571b0"/>
<rect x="1045.9" y="877.4" width="20.9" height="53.4" fill="#0571b0"/>
<rect x="1506.3" y="877.4" width="20.9" height="53.4" fill="#0571b0"/>
<rect x="1590.1" y="877.4" width="20.9" height="53.4" fill="#0571b0"/>
<rect x="104" y="877.4" width="20.9" height="53.4" fill="#92c5de"/>
<rect x="187.8" y="877.4" width="41.9" height="53.4" fill="#92c5de"/>
<rect x="334.3" y="877.4" width="20.9" height="53.4" fill="#92c5de"/>
<rect x="397" y="877.4" width="20.9" height="53.4" fill="#92c5de"/>
<rect x="522.6" y="877.4" width="41.9" height="53.4" fill="#92c5de"/>
<rect x="585.4" y="877.4" width="62.8" height="53.4" fill="#92c5de"/>
<rect x="815.6" y="877.4" width="20.9" height="53.4" fill="#92c5de"/>
<rect x="899.4" y="877.4" width="20.9" height="53.4" fill="#92c5de"/>
<rect x="1108.7" y="877.4" width="62.8" height="53.4" fill="#92c5de"/>
<rect x="1255.2" y="877.4" width="20.9" height="53.4" fill="#92c5de"/>
<rect x="1297" y="877.4" width="20.9" height="53.4" fill="#92c5de"/>
<rect x="1359.8" y="877.4" width="41.9" height="53.4" fill="#92c5de"/>
<rect x="1569.1" y="877.4" width="20.9" height="53.4" fill="#92c5de"/>
<rect x="1611" y="877.4" width="20.9" height="53.4" fill="#92c5de"/>
<g fill="#fff" stroke="#fff" stroke-width="0.35" font-size="22" text-anchor="middle">
<text x="135.4" y="852.4" transform="rotate(-90 135.4 844.7)" textLength="38.5" lengthAdjust="spacingAndGlyphs">1951</text><text x="261" y="852.4" transform="rotate(-90 261 844.7)" textLength="38.5" lengthAdjust="spacingAndGlyphs">1957</text><text x="386.6" y="852.4" transform="rotate(-90 386.6 844.7)" textLength="38.5" lengthAdjust="spacingAndGlyphs">1963</text><text x="428.4" y="852.4" transform="rotate(-90 428.4 844.7)" textLength="38.5" lengthAdjust="spacingAndGlyphs">1965</text><text x="491.2" y="852.4" transform="rotate(-90 491.2 844.7)" textLength="38.5" lengthAdjust="spacingAndGlyphs">1968</text><text x="512.2" y="852.4" transform="rotate(-90 512.2 844.7)" textLength="38.5" lengthAdjust="spacingAndGlyphs">1969</text><text x="679.6" y="852.4" transform="rotate(-90 679.6 844.7)" textLength="38.5" lengthAdjust="spacingAndGlyphs">1977</text><text x="721.5" y="852.4" transform="rotate(-90 721.5 844.7)" textLength="38.5" lengthAdjust="spacingAndGlyphs">1979</text><text x="868" y="852.4" transform="rotate(-90 868 844.7)" textLength="38.5" lengthAdjust="spacingAndGlyphs">1986</text><text x="888.9" y="852.4" transform="rotate(-90 888.9 844.7)" textLength="38.5" lengthAdjust="spacingAndGlyphs">1987</text><text x="1035.4" y="852.4" transform="rotate(-90 1035.4 844.7)" textLength="38.5" lengthAdjust="spacingAndGlyphs">1994</text><text x="1202.9" y="852.4" transform="rotate(-90 1202.9 844.7)" textLength="38.5" lengthAdjust="spacingAndGlyphs">2002</text><text x="1244.7" y="852.4" transform="rotate(-90 1244.7 844.7)" textLength="38.5" lengthAdjust="spacingAndGlyphs">2004</text><text x="1286.6" y="852.4" transform="rotate(-90 1286.6 844.7)" textLength="38.5" lengthAdjust="spacingAndGlyphs">2006</text><text x="1349.4" y="852.4" transform="rotate(-90 1349.4 844.7)" textLength="38.5" lengthAdjust="spacingAndGlyphs">2009</text><text x="1454" y="852.4" transform="rotate(-90 1454 844.7)" textLength="38.5" lengthAdjust="spacingAndGlyphs">2014</text><text x="1537.7" y="852.4" transform="rotate(-90 1537.7 844.7)" textLength="38.5" lengthAdjust="spacingAndGlyphs">2018</text><text x="575" y="852.4" transform="rotate(-90 575 844.7)" textLength="38.5" lengthAdjust="spacingAndGlyphs">1972</text><text x="658.7" y="852.4" transform="rotate(-90 658.7 844.7)" textLength="38.5" lengthAdjust="spacingAndGlyphs">1976</text><text x="784.3" y="852.4" transform="rotate(-90 784.3 844.7)" textLength="38.5" lengthAdjust="spacingAndGlyphs">1982</text><text x="972.6" y="852.4" transform="rotate(-90 972.6 844.7)" textLength="38.5" lengthAdjust="spacingAndGlyphs">1991</text><text x="1098.2" y="852.4" transform="rotate(-90 1098.2 844.7)" textLength="38.5" lengthAdjust="spacingAndGlyphs">1997</text><text x="1474.9" y="852.4" transform="rotate(-90 1474.9 844.7)" textLength="38.5" lengthAdjust="spacingAndGlyphs">2015</text><text x="1642.4" y="850.4" transform="rotate(-90 1642.4 842.7)" textLength="39" lengthAdjust="spacingAndGlyphs">2023</text><text x="93.6" y="913.1" transform="rotate(90 93.6 905.4)" textLength="37" lengthAdjust="spacingAndGlyphs">1949</text><text x="240.1" y="913.1" transform="rotate(90 240.1 905.4)" textLength="37" lengthAdjust="spacingAndGlyphs">1956</text><text x="365.7" y="913.1" transform="rotate(90 365.7 905.4)" textLength="37" lengthAdjust="spacingAndGlyphs">1962</text><text x="449.4" y="913.1" transform="rotate(90 449.4 905.4)" textLength="37" lengthAdjust="spacingAndGlyphs">1966</text><text x="470.3" y="913.1" transform="rotate(90 470.3 905.4)" textLength="37" lengthAdjust="spacingAndGlyphs">1967</text><text x="847" y="913.1" transform="rotate(90 847 905.4)" textLength="37" lengthAdjust="spacingAndGlyphs">1985</text><text x="1056.3" y="913.1" transform="rotate(90 1056.3 905.4)" textLength="37" lengthAdjust="spacingAndGlyphs">1995</text><text x="1516.8" y="913.1" transform="rotate(90 1516.8 905.4)" textLength="37" lengthAdjust="spacingAndGlyphs">2017</text><text x="1600.5" y="913.1" transform="rotate(90 1600.5 905.4)" textLength="37" lengthAdjust="spacingAndGlyphs">2021</text><text x="114.5" y="913.1" transform="rotate(90 114.5 905.4)" textLength="37" lengthAdjust="spacingAndGlyphs">1950</text><text x="198.2" y="913.1" transform="rotate(90 198.2 905.4)" textLength="37" lengthAdjust="spacingAndGlyphs">1954</text><text x="219.1" y="913.1" transform="rotate(90 219.1 905.4)" textLength="37" lengthAdjust="spacingAndGlyphs">1955</text><text x="344.7" y="913.1" transform="rotate(90 344.7 905.4)" textLength="37" lengthAdjust="spacingAndGlyphs">1961</text><text x="407.5" y="913.1" transform="rotate(90 407.5 905.4)" textLength="37" lengthAdjust="spacingAndGlyphs">1964</text><text x="533.1" y="913.1" transform="rotate(90 533.1 905.4)" textLength="37" lengthAdjust="spacingAndGlyphs">1970</text><text x="554" y="913.1" transform="rotate(90 554 905.4)" textLength="37" lengthAdjust="spacingAndGlyphs">1971</text><text x="595.9" y="913.1" transform="rotate(90 595.9 905.4)" textLength="37" lengthAdjust="spacingAndGlyphs">1973</text><text x="616.8" y="913.1" transform="rotate(90 616.8 905.4)" textLength="37" lengthAdjust="spacingAndGlyphs">1974</text><text x="637.7" y="913.1" transform="rotate(90 637.7 905.4)" textLength="37" lengthAdjust="spacingAndGlyphs">1975</text><text x="826.1" y="913.1" transform="rotate(90 826.1 905.4)" textLength="37" lengthAdjust="spacingAndGlyphs">1984</text><text x="909.8" y="913.1" transform="rotate(90 909.8 905.4)" textLength="37" lengthAdjust="spacingAndGlyphs">1988</text><text x="1119.1" y="913.1" transform="rotate(90 1119.1 905.4)" textLength="37" lengthAdjust="spacingAndGlyphs">1998</text><text x="1140.1" y="913.1" transform="rotate(90 1140.1 905.4)" textLength="37" lengthAdjust="spacingAndGlyphs">1999</text><text x="1161" y="913.1" transform="rotate(90 1161 905.4)" textLength="37" lengthAdjust="spacingAndGlyphs">2000</text><text x="1265.6" y="913.1" transform="rotate(90 1265.6 905.4)" textLength="37" lengthAdjust="spacingAndGlyphs">2005</text><text x="1307.5" y="913.1" transform="rotate(90 1307.5 905.4)" textLength="37" lengthAdjust="spacingAndGlyphs">2007</text><text x="1370.3" y="913.1" transform="rotate(90 1370.3 905.4)" textLength="37" lengthAdjust="spacingAndGlyphs">2010</text><text x="1391.2" y="913.1" transform="rotate(90 1391.2 905.4)" textLength="37" lengthAdjust="spacingAndGlyphs">2011</text><text x="1579.6" y="913.1" transform="rotate(90 1579.6 905.4)" textLength="37" lengthAdjust="spacingAndGlyphs">2020</text><text x="1621.5" y="913.1" transform="rotate(90 1621.5 905.4)" textLength="37" lengthAdjust="spacingAndGlyphs">2022</text>
</g>
<rect x="82.3" y="873" width="1571.3" height="4.6" fill="#4d4d4d"/>
<line x1="43.7" y1="875.3" x2="82.3" y2="875.3" stroke="#4d4d4d" stroke-width="4.6" stroke-dasharray="3.2 2.5"/>
</g>
</svg>
</body></html>
